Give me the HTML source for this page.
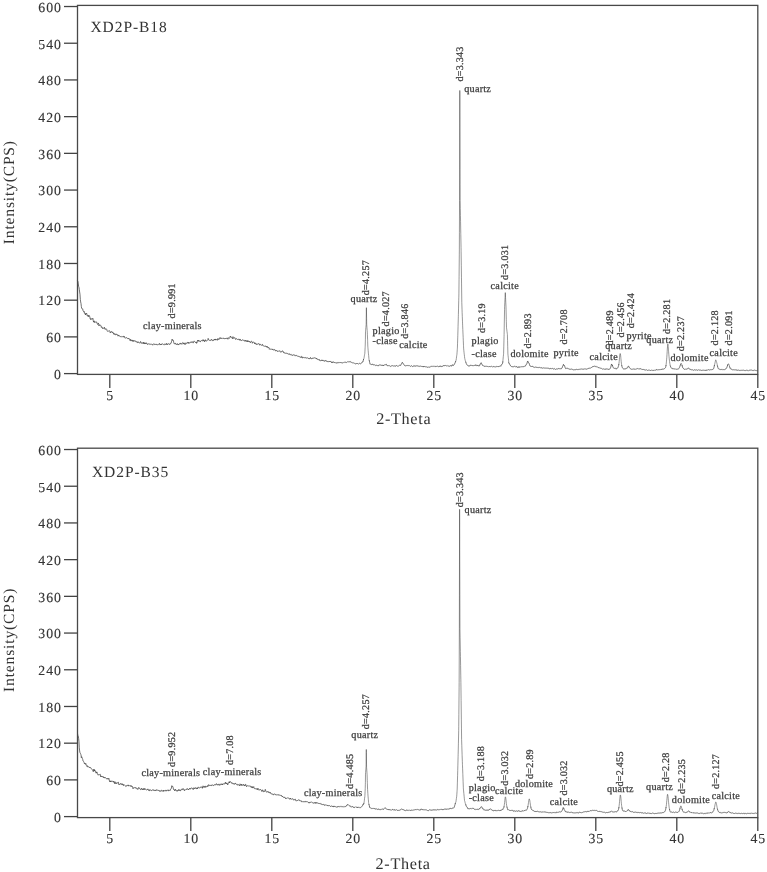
<!DOCTYPE html>
<html><head><meta charset="utf-8"><style>
html,body{margin:0;padding:0;background:#fff;}
svg{display:block;filter:grayscale(1) blur(0.3px);}
text{font-family:"Liberation Serif", serif;fill:#333;text-rendering:geometricPrecision;}
.tk{font-size:13.8px;letter-spacing:1px;stroke:#333;stroke-width:0.12px;}
.ax{font-size:16.2px;letter-spacing:0.68px;}
.ay{font-size:15.5px;letter-spacing:0.85px;}
.an{font-size:10.2px;letter-spacing:0.25px;fill:#3a3a3a;stroke:#3a3a3a;stroke-width:0.25px;}
.av{font-size:10.1px;letter-spacing:0.25px;fill:#3a3a3a;stroke:#3a3a3a;stroke-width:0.25px;}
.ttl{font-size:15.5px;letter-spacing:0.93px;}
</style></head><body>
<svg width="767" height="872" viewBox="0 0 767 872">
<rect width="767" height="872" fill="#fff"/>

<polyline fill="none" stroke="#333" stroke-width="0.7" stroke-linejoin="round" stroke-linecap="round" points="77.60,280.92 77.94,281.55 78.28,283.91 78.62,286.33 78.96,287.16 79.30,289.35 79.64,291.96 79.98,294.21 80.32,299.41 80.66,301.93 81.00,303.53 81.34,306.41 81.68,308.43 82.02,308.52 82.36,308.78 82.70,308.75 83.04,310.63 83.38,311.23 83.72,311.44 84.06,311.00 84.40,313.30 84.74,312.98 85.08,313.12 85.42,314.94 85.76,313.92 86.10,313.08 86.44,313.75 86.78,313.44 87.12,315.73 87.46,315.38 87.80,315.46 88.14,316.60 88.48,315.48 88.82,316.53 89.16,315.44 89.50,316.25 89.84,316.77 90.18,318.96 90.52,319.54 90.86,318.50 91.20,319.14 91.54,318.96 91.88,319.40 92.22,318.67 92.56,318.02 92.90,318.41 93.24,320.52 93.58,322.15 93.92,321.15 94.26,320.91 94.60,322.53 94.94,321.94 95.28,321.87 95.62,322.16 95.96,322.15 96.30,322.10 96.64,321.87 96.98,323.27 97.32,323.63 97.66,324.50 98.00,323.68 98.34,322.96 98.68,324.54 99.02,326.03 99.36,325.09 99.70,324.70 100.04,324.73 100.38,325.09 100.72,325.69 101.06,325.80 101.40,327.42 101.74,326.86 102.08,327.26 102.42,328.42 102.76,328.60 103.10,327.74 103.44,328.12 103.78,328.53 104.12,327.94 104.46,327.31 104.80,328.93 105.14,329.56 105.48,329.29 105.82,328.64 106.16,329.08 106.50,329.14 106.84,329.67 107.18,330.95 107.52,331.38 107.86,331.00 108.20,330.99 108.54,331.13 108.88,330.86 109.22,330.82 109.56,330.68 109.90,331.48 110.24,333.02 110.58,332.46 110.92,331.65 111.26,331.52 111.60,331.59 111.94,332.49 112.28,332.59 112.62,331.87 112.96,332.86 113.30,332.90 113.64,334.01 113.98,333.86 114.32,334.54 114.66,333.58 115.00,333.65 115.34,334.31 115.68,334.96 116.02,334.68 116.36,333.87 116.70,334.65 117.04,334.82 117.38,334.63 117.72,334.89 118.06,336.18 118.40,335.27 118.74,335.04 119.08,335.95 119.42,335.95 119.76,336.01 120.10,336.60 120.44,336.65 120.78,336.75 121.12,337.15 121.46,336.84 121.80,336.38 122.14,336.53 122.48,336.69 122.82,337.07 123.16,336.43 123.50,336.19 123.84,337.18 124.18,336.63 124.52,336.52 124.86,337.80 125.20,337.74 125.54,338.31 125.88,337.91 126.22,337.55 126.56,337.63 126.90,338.20 127.24,338.49 127.58,338.37 127.92,338.56 128.26,338.20 128.60,338.83 128.94,338.28 129.28,339.19 129.62,340.05 129.96,340.57 130.30,340.68 130.64,339.27 130.98,340.35 131.32,340.97 131.66,340.76 132.00,339.92 132.34,340.73 132.68,341.42 133.02,340.05 133.36,340.95 133.70,341.45 134.04,340.78 134.38,341.20 134.72,340.57 135.06,340.64 135.40,340.91 135.74,341.55 136.08,341.76 136.42,342.20 136.76,341.48 137.10,341.95 137.44,342.72 137.78,342.49 138.12,341.69 138.46,342.48 138.80,342.24 139.14,342.63 139.48,342.84 139.82,343.26 140.16,342.58 140.50,341.48 140.84,341.81 141.18,342.96 141.52,342.88 141.86,343.48 142.20,343.10 142.54,342.71 142.88,343.42 143.22,342.53 143.56,342.19 143.90,343.89 144.24,342.58 144.58,343.61 144.92,344.04 145.26,343.51 145.60,342.82 145.94,343.85 146.28,342.92 146.62,342.88 146.96,343.62 147.30,344.36 147.64,344.36 147.98,344.51 148.32,343.95 148.66,343.85 149.00,343.48 149.34,343.93 149.68,344.42 150.02,344.15 150.36,344.36 150.70,343.90 151.04,343.86 151.38,344.19 151.72,344.24 152.06,344.60 152.40,344.65 152.74,345.20 153.08,344.33 153.42,344.00 153.76,343.68 154.10,344.22 154.44,344.52 154.78,343.91 155.12,344.20 155.46,344.58 155.80,344.16 156.14,344.02 156.48,344.66 156.82,344.41 157.16,344.58 157.50,345.04 157.84,344.96 158.18,344.15 158.52,344.00 158.86,344.37 159.20,344.06 159.54,343.45 159.88,344.81 160.22,344.60 160.56,344.63 160.90,343.99 161.24,344.89 161.58,344.24 161.92,344.15 162.26,343.67 162.60,344.19 162.94,344.31 163.28,344.37 163.62,344.63 163.96,344.57 164.30,344.82 164.64,344.06 164.98,343.69 165.32,344.19 165.66,344.68 166.00,345.00 166.34,344.51 166.68,343.29 167.02,344.22 167.36,344.84 167.70,344.11 168.04,343.69 168.38,343.93 168.72,343.71 169.06,344.14 169.40,344.05 169.74,344.58 170.08,344.03 170.42,343.25 170.76,343.56 171.10,343.21 171.44,341.74 171.78,340.55 172.12,339.17 172.46,340.27 172.80,340.15 173.14,340.06 173.48,341.10 173.82,342.75 174.16,343.80 174.50,343.79 174.84,343.96 175.18,343.25 175.52,343.26 175.86,344.41 176.20,344.42 176.54,344.24 176.88,344.61 177.22,343.60 177.56,343.78 177.90,344.68 178.24,345.05 178.58,344.33 178.92,344.73 179.26,343.77 179.60,343.93 179.94,343.57 180.28,342.94 180.62,343.82 180.96,344.24 181.30,343.71 181.64,343.77 181.98,344.23 182.32,342.92 182.66,342.55 183.00,342.87 183.34,342.94 183.68,344.09 184.02,343.66 184.36,342.89 184.70,343.26 185.04,344.73 185.38,343.20 185.72,342.80 186.06,343.37 186.40,343.59 186.74,343.23 187.08,342.50 187.42,342.40 187.76,343.22 188.10,342.85 188.44,342.20 188.78,343.46 189.12,343.42 189.46,342.77 189.80,342.64 190.14,342.75 190.48,342.17 190.82,341.85 191.16,342.43 191.50,341.82 191.84,342.35 192.18,341.66 192.52,342.13 192.86,342.44 193.20,343.10 193.54,341.67 193.88,341.18 194.22,341.45 194.56,341.29 194.90,341.59 195.24,342.21 195.58,342.57 195.92,342.77 196.26,341.90 196.60,343.36 196.94,343.09 197.28,341.49 197.62,340.28 197.96,341.23 198.30,341.24 198.64,340.17 198.98,341.13 199.32,341.14 199.66,340.89 200.00,341.61 200.34,341.76 200.68,341.00 201.02,341.07 201.36,340.59 201.70,340.46 202.04,340.93 202.38,341.12 202.72,340.34 203.06,339.59 203.40,340.68 203.74,339.96 204.08,340.84 204.42,341.74 204.76,340.76 205.10,339.82 205.44,339.82 205.78,341.10 206.12,340.79 206.46,340.99 206.80,341.13 207.14,340.57 207.48,340.20 207.82,339.52 208.16,338.39 208.50,339.17 208.84,340.14 209.18,340.29 209.52,340.50 209.86,340.27 210.20,340.41 210.54,340.56 210.88,339.72 211.22,339.66 211.56,339.26 211.90,340.42 212.24,340.22 212.58,340.45 212.92,341.02 213.26,340.71 213.60,340.07 213.94,340.10 214.28,339.13 214.62,339.85 214.96,339.66 215.30,338.94 215.64,340.13 215.98,339.45 216.32,339.81 216.66,339.48 217.00,340.16 217.34,340.21 217.68,338.89 218.02,338.35 218.36,339.15 218.70,339.70 219.04,339.04 219.38,338.84 219.72,339.01 220.06,337.48 220.40,338.16 220.74,338.17 221.08,338.88 221.42,338.40 221.76,338.11 222.10,338.32 222.44,337.91 222.78,338.48 223.12,338.27 223.46,338.28 223.80,338.28 224.14,339.01 224.48,338.66 224.82,338.85 225.16,338.70 225.50,338.07 225.84,338.63 226.18,338.61 226.52,338.42 226.86,337.93 227.20,337.92 227.54,338.74 227.88,339.28 228.22,337.80 228.56,338.05 228.90,337.78 229.24,338.24 229.58,338.20 229.92,337.98 230.26,336.00 230.60,336.70 230.94,336.86 231.28,337.35 231.62,337.20 231.96,337.43 232.30,338.46 232.64,338.84 232.98,336.63 233.32,337.68 233.66,338.41 234.00,338.36 234.34,338.08 234.68,337.59 235.02,338.01 235.36,339.16 235.70,339.54 236.04,338.99 236.38,338.52 236.72,338.97 237.06,339.06 237.40,339.49 237.74,339.32 238.08,339.01 238.42,339.29 238.76,338.92 239.10,340.01 239.44,340.25 239.78,339.20 240.12,339.73 240.46,339.44 240.80,340.50 241.14,340.58 241.48,340.13 241.82,340.59 242.16,339.96 242.50,339.74 242.84,339.88 243.18,340.17 243.52,340.24 243.86,340.46 244.20,340.32 244.54,341.10 244.88,341.30 245.22,340.42 245.56,340.04 245.90,341.26 246.24,341.66 246.58,340.91 246.92,340.41 247.26,341.39 247.60,341.97 247.94,340.59 248.28,341.50 248.62,341.37 248.96,341.23 249.30,341.80 249.64,341.25 249.98,342.14 250.32,342.85 250.66,342.31 251.00,341.59 251.34,341.12 251.68,341.32 252.02,341.56 252.36,343.25 252.70,342.64 253.04,342.05 253.38,341.94 253.72,342.21 254.06,342.61 254.40,342.62 254.74,343.92 255.08,343.03 255.42,342.95 255.76,343.76 256.10,344.57 256.44,344.51 256.78,343.70 257.12,343.97 257.46,344.13 257.80,344.38 258.14,344.23 258.48,343.63 258.82,343.59 259.16,344.27 259.50,344.10 259.84,345.25 260.18,344.82 260.52,344.29 260.86,344.62 261.20,344.75 261.54,345.15 261.88,345.59 262.22,344.52 262.56,344.38 262.90,345.53 263.24,345.65 263.58,345.90 263.92,346.12 264.26,346.04 264.60,346.39 264.94,345.88 265.28,346.24 265.62,346.00 265.96,346.08 266.30,347.08 266.64,347.12 266.98,346.08 267.32,346.53 267.66,347.56 268.00,348.06 268.34,347.47 268.68,347.54 269.02,347.55 269.36,349.30 269.70,348.89 270.04,349.00 270.38,349.11 270.72,349.33 271.06,349.24 271.40,348.96 271.74,349.40 272.08,349.41 272.42,349.81 272.76,349.05 273.10,349.15 273.44,349.91 273.78,350.30 274.12,349.82 274.46,349.44 274.80,349.69 275.14,349.90 275.48,350.99 275.82,350.89 276.16,350.95 276.50,350.53 276.84,350.29 277.18,351.16 277.52,351.54 277.86,351.11 278.20,350.91 278.54,351.31 278.88,350.95 279.22,351.27 279.56,350.76 279.90,350.73 280.24,351.49 280.58,351.78 280.92,352.35 281.26,351.62 281.60,351.52 281.94,351.03 282.28,350.68 282.62,350.96 282.96,351.92 283.30,351.71 283.64,352.72 283.98,353.00 284.32,352.55 284.66,353.24 285.00,352.99 285.34,353.24 285.68,352.96 286.02,353.30 286.36,352.83 286.70,353.36 287.04,353.18 287.38,353.42 287.72,353.86 288.06,353.83 288.40,353.87 288.74,354.33 289.08,354.35 289.42,353.71 289.76,354.48 290.10,354.69 290.44,354.32 290.78,354.61 291.12,354.30 291.46,355.24 291.80,354.86 292.14,354.96 292.48,355.46 292.82,355.14 293.16,355.25 293.50,354.73 293.84,354.78 294.18,354.65 294.52,355.25 294.86,355.87 295.20,355.77 295.54,355.87 295.88,355.21 296.22,355.20 296.56,355.55 296.90,356.07 297.24,356.11 297.58,356.09 297.92,356.35 298.26,356.20 298.60,356.40 298.94,356.89 299.28,356.40 299.62,356.77 299.96,357.38 300.30,357.05 300.64,357.15 300.98,356.99 301.32,357.64 301.66,356.38 302.00,356.57 302.34,357.03 302.68,358.08 303.02,357.85 303.36,357.52 303.70,357.31 304.04,357.89 304.38,357.91 304.72,357.56 305.06,357.26 305.40,357.50 305.74,358.10 306.08,358.27 306.42,358.22 306.76,358.02 307.10,357.58 307.44,358.10 307.78,357.97 308.12,358.38 308.46,358.58 308.80,358.20 309.14,358.19 309.48,358.92 309.82,358.81 310.16,358.24 310.50,357.47 310.84,358.41 311.18,358.91 311.52,358.97 311.86,358.29 312.20,358.13 312.54,358.27 312.88,358.58 313.22,357.96 313.56,358.09 313.90,357.93 314.24,358.13 314.58,357.65 314.92,358.13 315.26,357.94 315.60,358.10 315.94,358.62 316.28,358.83 316.62,358.17 316.96,359.08 317.30,359.21 317.64,359.14 317.98,359.76 318.32,359.67 318.66,359.99 319.00,359.51 319.34,359.57 319.68,360.54 320.02,361.07 320.36,360.76 320.70,360.74 321.04,360.26 321.38,359.98 321.72,360.49 322.06,360.98 322.40,360.07 322.74,360.24 323.08,360.05 323.42,360.76 323.76,361.07 324.10,360.50 324.44,360.81 324.78,361.42 325.12,361.02 325.46,360.56 325.80,360.44 326.14,360.45 326.48,361.30 326.82,361.16 327.16,361.71 327.50,361.71 327.84,361.23 328.18,361.31 328.52,361.77 328.86,361.71 329.20,361.61 329.54,361.20 329.88,361.85 330.22,361.39 330.56,360.97 330.90,361.56 331.24,362.20 331.58,362.72 331.92,362.00 332.26,361.81 332.60,362.80 332.94,362.42 333.28,362.14 333.62,361.91 333.96,362.11 334.30,362.86 334.64,362.50 334.98,362.35 335.32,362.54 335.66,363.12 336.00,362.71 336.34,362.98 336.68,362.94 337.02,362.82 337.36,362.55 337.70,363.03 338.04,363.32 338.38,362.78 338.72,362.35 339.06,362.27 339.40,362.68 339.74,362.64 340.08,362.66 340.42,362.60 340.76,362.27 341.10,362.86 341.44,362.81 341.78,362.68 342.12,362.80 342.46,362.98 342.80,362.67 343.14,362.45 343.48,362.92 343.82,362.51 344.16,362.24 344.50,362.05 344.84,362.42 345.18,362.17 345.52,362.25 345.86,362.49 346.20,362.41 346.54,362.57 346.88,362.26 347.22,361.89 347.56,361.77 347.90,361.71 348.24,361.95 348.58,361.71 348.92,361.52 349.26,361.77 349.60,361.70 349.94,361.53 350.28,361.44 350.62,362.16 350.96,362.37 351.30,362.42 351.64,362.37 351.98,362.35 352.32,362.63 352.66,362.88 353.00,362.88 353.34,362.91 353.68,362.94 354.02,363.25 354.36,363.29 354.70,363.15 355.04,363.65 355.38,363.84 355.72,363.87 356.06,363.65 356.40,363.59 356.74,363.49 357.08,363.91 357.42,363.35 357.76,363.69 358.10,363.87 358.40,364.13 358.44,364.16 358.65,363.99 358.78,363.89 358.90,363.74 359.12,363.47 359.15,363.46 359.40,363.32 359.46,363.29 359.65,363.40 359.80,363.50 359.90,363.58 360.14,363.77 360.15,363.77 360.40,363.77 360.48,363.76 360.65,363.69 360.82,363.62 360.90,363.58 361.00,363.54 361.15,363.29 361.16,363.27 361.40,363.11 361.50,363.04 361.65,362.97 361.84,362.89 361.90,362.73 362.15,362.05 362.18,361.97 362.40,361.90 362.52,361.89 362.65,361.94 362.86,362.02 362.90,361.95 363.15,360.97 363.20,360.77 363.40,359.98 363.54,359.42"/>
<polyline fill="none" stroke="#333" stroke-width="0.5" stroke-linejoin="round" stroke-linecap="round" points="363.54,359.42 363.65,359.15 363.88,358.57 363.90,358.49 364.10,357.69 364.15,357.31 364.22,356.78 364.40,355.70 364.56,354.75 364.65,354.29 364.80,353.52 364.90,351.85 365.15,347.25 365.20,346.33 365.24,345.08 365.40,339.68 365.50,331.48 365.58,330.36 365.65,329.70 365.90,327.32 365.92,327.13 366.15,324.80 366.26,317.44 366.40,307.68 366.60,318.67 366.65,321.53 366.70,324.40 366.90,326.97 366.94,327.49 367.15,330.28 367.28,332.00 367.30,332.22 367.40,334.74 367.60,339.78 367.62,340.38 367.65,341.33 367.80,346.08 367.90,347.36 367.96,348.12 368.15,350.36 368.30,352.12 368.40,353.23 368.64,355.30 368.65,355.41 368.90,358.28 368.98,359.20 369.00,359.41 369.15,360.02 369.32,360.72"/>
<polyline fill="none" stroke="#333" stroke-width="0.7" stroke-linejoin="round" stroke-linecap="round" points="369.32,360.72 369.40,361.12 369.65,362.37 369.66,362.42 369.90,363.60 370.00,364.08 370.10,364.35 370.15,364.32 370.34,364.17 370.40,364.14 370.65,364.00 370.68,363.98 370.90,364.20 371.02,364.32 371.15,364.40 371.36,364.52 371.40,364.55 371.65,364.73 371.70,364.77 371.90,364.49 372.00,364.35 372.04,364.28 372.15,364.25 372.38,364.20 372.40,364.20 372.65,364.19 372.72,364.18 372.90,364.57 373.06,364.92 373.15,364.91 373.40,364.91 373.65,364.79 373.74,364.74 373.90,364.74 374.08,364.74 374.15,364.76 374.40,364.81 374.42,364.82 374.65,364.82 374.76,364.82 374.90,364.90 375.10,365.01 375.15,365.03 375.44,365.17 375.78,365.68 376.12,365.48 376.46,365.16 376.80,365.32 377.14,365.81 377.48,365.67 377.82,365.58 378.16,365.71 378.50,365.79 378.84,365.05 379.18,364.92 379.52,364.78 379.86,365.27 380.20,365.11 380.54,364.94 380.88,364.96 381.22,365.33 381.56,365.18 381.90,365.15 382.24,365.51 382.58,364.97 382.92,365.02 383.26,365.92 383.60,365.30 383.94,365.02 384.28,364.91 384.62,364.96 384.96,365.04 385.30,364.84 385.64,364.56 385.98,364.28 386.32,364.22 386.66,365.01 387.00,365.69 387.34,365.77 387.68,365.59 388.02,365.81 388.36,365.62 388.70,365.61 389.04,365.39 389.38,365.62 389.72,365.80 390.06,365.81 390.40,366.13 390.74,366.47 391.08,366.30 391.42,365.81 391.76,365.62 392.10,365.61 392.44,365.59 392.78,365.89 393.12,366.05 393.46,366.02 393.80,366.01 394.14,366.00 394.48,365.89 394.82,365.83 395.16,366.40 395.50,366.22 395.84,365.62 396.18,365.50 396.52,365.59 396.86,365.82 397.20,366.15 397.54,366.13 397.88,366.10 398.22,366.07 398.56,366.02 398.90,365.86 399.24,365.67 399.58,365.34 399.92,364.87 400.26,365.22 400.60,365.55 400.94,364.70 401.28,364.15 401.62,363.88 401.96,362.92 402.30,362.24 402.64,362.66 402.98,363.07 403.32,363.75 403.66,364.18 404.00,364.93 404.34,365.33 404.68,365.66 405.02,365.91 405.36,365.94 405.70,365.75 406.04,365.77 406.38,365.43 406.72,365.84 407.06,365.92 407.40,365.62 407.74,365.51 408.08,365.64 408.42,365.47 408.76,365.84 409.10,365.86 409.44,365.59 409.78,365.86 410.12,366.21 410.46,366.28 410.80,366.20 411.14,365.87 411.48,365.75 411.82,365.79 412.16,366.16 412.50,366.64 412.84,366.50 413.18,366.48 413.52,366.25 413.86,365.51 414.20,365.71 414.54,365.83 414.88,366.30 415.22,366.38 415.56,365.81 415.90,365.89 416.24,366.01 416.58,365.75 416.92,365.65 417.26,365.72 417.60,366.04 417.94,365.77 418.28,366.20 418.62,366.12 418.96,366.33 419.30,366.50 419.64,365.99 419.98,365.94 420.32,366.23 420.66,365.98 421.00,366.06 421.34,366.30 421.68,366.37 422.02,366.12 422.36,366.37 422.70,366.76 423.04,366.87 423.38,366.28 423.72,366.97 424.06,366.98 424.40,366.47 424.74,366.42 425.08,366.88 425.42,366.81 425.76,366.93 426.10,367.07 426.44,366.82 426.78,366.89 427.12,367.01 427.46,367.17 427.80,367.40 428.14,367.35 428.48,366.93 428.82,366.86 429.16,367.40 429.50,367.08 429.84,366.83 430.18,366.52 430.52,366.82 430.86,366.53 431.20,366.47 431.54,366.30 431.88,366.48 432.22,366.57 432.56,366.22 432.90,366.32 433.24,366.48 433.58,366.21 433.92,366.15 434.26,366.22 434.60,366.19 434.94,366.58 435.28,366.36 435.62,366.72 435.96,366.73 436.30,366.24 436.64,366.40 436.98,366.28 437.32,366.11 437.66,366.28 438.00,366.39 438.34,366.65 438.68,366.65 439.02,366.13 439.36,366.22 439.70,366.53 440.04,366.52 440.38,365.79 440.72,366.47 441.06,366.38 441.40,366.61 441.74,366.15 442.08,365.96 442.42,366.21 442.76,366.48 443.10,366.08 443.44,365.53 443.78,366.05 444.12,365.63 444.46,365.63 444.80,365.56 445.14,365.38 445.48,365.49 445.82,365.60 446.16,365.73 446.50,365.87 446.84,365.74 447.18,365.46 447.52,365.79 447.86,366.16 448.20,366.16 448.54,365.94 448.88,366.02 449.22,366.13 449.56,366.27 449.90,366.25 450.24,365.69 450.58,365.67 450.92,366.14 451.26,366.25 451.60,365.99 451.80,365.42 451.94,365.01 452.05,365.07 452.28,365.17 452.30,365.14 452.55,364.77 452.62,364.67 452.80,365.13 452.96,365.54 453.05,365.54 453.30,365.56 453.55,365.16 453.64,365.01 453.80,364.80 453.98,364.55 454.05,364.51 454.30,364.37 454.32,364.36 454.55,363.84 454.66,363.59 454.80,363.49 455.00,363.13 455.05,363.00 455.30,362.32 455.34,362.21 455.55,361.63"/>
<polyline fill="none" stroke="#333" stroke-width="0.5" stroke-linejoin="round" stroke-linecap="round" points="455.55,361.63 455.68,361.28 455.80,360.98 456.02,360.42 456.05,360.33 456.10,360.18 456.30,358.71 456.36,358.27 456.55,356.83 456.70,355.70 456.80,355.14 456.90,354.58 457.04,352.84 457.05,352.70 457.30,349.31 457.38,348.23 457.40,347.94 457.55,343.22 457.72,337.87 457.80,335.45 458.05,326.85 458.06,326.51 458.30,318.09 458.35,316.34 458.40,314.34 458.55,308.11 458.74,300.22 458.80,297.85 458.90,293.90 459.05,279.31 459.08,276.40 459.30,254.86 459.35,249.97 459.42,232.64 459.55,200.44 459.76,108.00 459.80,90.43 460.05,169.18 460.10,184.93 460.15,200.62 460.30,208.34 460.44,215.54 460.55,221.30 460.78,233.35 460.80,234.41 461.05,247.60 461.10,250.24 461.12,251.74 461.30,265.22 461.46,277.20 461.55,283.95 461.80,302.70 462.05,309.85 462.14,312.42 462.30,316.54 462.48,321.18 462.55,323.10 462.65,325.84 462.80,329.30 462.82,329.76 463.05,334.92 463.16,337.39 463.30,340.80 463.50,345.69 463.55,346.89 463.60,348.09 463.80,350.16 463.84,350.58 464.05,352.55 464.18,353.77 464.30,354.74 464.52,356.52 464.55,356.81 464.70,358.28 464.80,358.63 464.86,358.84 465.05,359.67 465.20,360.32 465.30,360.59 465.54,361.22 465.55,361.26 465.80,362.15"/>
<polyline fill="none" stroke="#333" stroke-width="0.7" stroke-linejoin="round" stroke-linecap="round" points="465.80,362.15 465.88,362.44 466.05,362.83 466.22,363.23 466.30,363.61 466.55,364.31 466.56,364.34 466.80,364.66 466.90,364.80 467.05,364.89 467.24,365.00 467.30,365.02 467.55,365.09 467.58,365.10 467.80,365.47 467.92,365.67 468.00,365.81 468.05,365.83 468.26,365.91 468.30,365.92 468.55,365.94 468.60,365.95 468.94,365.86 469.28,365.82 469.62,365.97 469.96,366.10 470.30,365.25 470.64,365.19 470.98,365.21 471.32,365.35 471.66,365.22 472.00,365.74 472.34,365.70 472.68,365.53 473.02,365.41 473.36,365.60 473.70,365.64 474.04,365.59 474.38,365.36 474.72,365.53 475.06,365.16 475.40,365.56 475.74,364.69 476.08,365.11 476.42,365.23 476.76,365.64 477.10,365.34 477.44,365.93 477.78,365.42 478.12,366.11 478.46,365.85 478.80,365.62 479.14,365.70 479.48,365.92 479.82,365.12 480.16,363.86 480.50,363.92 480.84,363.22 481.18,362.69 481.52,363.52 481.86,363.88 482.20,364.81 482.54,365.36 482.88,365.55 483.22,365.97 483.56,365.80 483.90,366.08 484.24,366.03 484.58,366.24 484.92,366.76 485.26,366.36 485.60,366.02 485.94,366.20 486.28,366.16 486.62,366.36 486.96,366.46 487.30,366.47 487.64,366.45 487.98,366.36 488.32,366.64 488.66,366.78 489.00,366.43 489.34,366.51 489.68,366.66 490.02,366.99 490.36,366.93 490.70,366.51 491.04,366.55 491.38,366.24 491.72,366.36 492.06,366.69 492.40,366.94 492.74,367.01 493.08,366.66 493.42,366.44 493.76,366.76 494.10,366.71 494.44,366.78 494.78,366.74 495.12,366.83 495.46,366.83 495.80,366.76 496.14,366.48 496.48,366.67 496.82,366.35 497.16,366.49 497.30,366.65 497.50,366.87 497.55,366.81 497.80,366.50 497.84,366.45 498.05,366.22 498.18,366.08 498.30,366.27 498.52,366.63 498.55,366.63 498.80,366.63 498.86,366.63 499.05,366.58 499.20,366.55 499.30,366.47 499.54,366.28 499.55,366.28 499.80,366.21 499.88,366.19 500.05,366.09 500.22,365.98 500.30,365.97 500.55,365.92 500.56,365.92 500.80,366.22 500.90,366.18 501.05,365.74 501.24,365.21 501.30,365.08 501.55,364.56 501.58,364.50 501.80,364.22 501.92,364.07 502.05,364.07 502.26,364.08 502.30,363.99 502.55,363.42 502.60,363.30 502.70,363.03 502.80,361.89"/>
<polyline fill="none" stroke="#333" stroke-width="0.5" stroke-linejoin="round" stroke-linecap="round" points="502.80,361.89 502.94,360.31 503.05,359.20 503.28,356.88 503.30,356.68 503.55,354.26 503.60,353.78 503.62,353.03 503.80,346.17 503.96,340.07 504.05,336.51 504.10,334.53 504.30,323.10 504.55,309.52 504.60,306.81 504.64,306.07 504.80,302.80 504.98,299.13 505.05,297.70 505.30,292.61 505.32,293.00 505.55,297.66 505.66,299.89 505.80,302.85 506.00,307.06 506.05,309.15 506.30,319.59 506.34,321.26 506.50,327.67 506.55,328.02 506.68,328.95 506.80,329.91 507.02,331.67 507.05,331.89 507.30,333.74 507.36,334.18 507.40,334.54 507.55,340.39 507.70,346.24 507.80,350.07 507.90,353.89 508.04,355.34 508.05,355.43 508.30,357.60 508.38,358.30 508.55,360.15 508.72,362.00 508.80,362.89"/>
<polyline fill="none" stroke="#333" stroke-width="0.7" stroke-linejoin="round" stroke-linecap="round" points="508.80,362.89 509.05,363.51 509.06,363.53 509.30,363.58 509.40,363.59 509.55,363.98 509.74,364.46 509.80,364.60 510.05,365.19 510.08,365.26 510.30,365.33 510.42,365.36 510.55,365.68 510.70,366.06 510.76,366.11 510.80,366.14 511.05,366.35 511.10,366.39 511.30,366.49 511.44,366.56 511.55,366.44 511.78,366.21 511.80,366.24 512.05,366.60 512.12,366.71 512.30,366.71 512.46,366.72 512.55,366.78 512.80,366.95 513.05,366.97 513.14,366.98 513.30,366.90 513.48,366.81 513.55,366.79 513.80,366.72 513.82,366.72 514.05,366.38 514.16,366.21 514.50,366.25 514.84,366.44 515.18,366.74 515.52,366.99 515.86,366.49 516.20,366.70 516.54,366.55 516.88,366.64 517.22,367.36 517.56,367.29 517.90,367.62 518.24,367.46 518.58,366.83 518.92,366.66 519.26,367.42 519.60,366.94 519.94,366.68 520.28,367.04 520.62,366.91 520.96,366.66 521.30,366.68 521.64,366.79 521.98,366.79 522.32,366.85 522.66,366.56 523.00,366.50 523.34,366.68 523.68,366.64 524.02,366.69 524.36,366.31 524.70,366.11 525.04,365.85 525.38,366.12 525.72,365.30 526.06,365.07 526.40,364.34 526.74,363.85 527.08,363.01 527.42,361.65"/>
<polyline fill="none" stroke="#333" stroke-width="0.5" stroke-linejoin="round" stroke-linecap="round" points="527.42,361.65 527.76,361.30 528.10,361.20 528.44,362.43 528.78,362.92"/>
<polyline fill="none" stroke="#333" stroke-width="0.7" stroke-linejoin="round" stroke-linecap="round" points="528.78,362.92 529.12,363.44 529.46,364.46 529.80,365.62 530.14,366.16 530.48,366.28 530.82,365.98 531.16,366.28 531.50,366.77 531.84,366.37 532.18,366.39 532.52,366.32 532.86,366.44 533.20,367.07 533.54,367.10 533.88,367.10 534.22,367.20 534.56,367.41 534.90,367.53 535.24,367.21 535.58,367.07 535.92,367.05 536.26,367.51 536.60,367.23 536.94,367.03 537.28,367.33 537.62,367.53 537.96,367.79 538.30,367.81 538.64,367.43 538.98,367.38 539.32,367.48 539.66,367.38 540.00,367.66 540.34,367.86 540.68,367.73 541.02,367.37 541.36,367.55 541.70,368.07 542.04,367.77 542.38,368.09 542.72,368.13 543.06,367.90 543.40,367.79 543.74,368.01 544.08,367.88 544.42,368.04 544.76,368.13 545.10,368.01 545.44,368.10 545.78,368.09 546.12,367.95 546.46,368.15 546.80,368.07 547.14,367.88 547.48,368.19 547.82,368.28 548.16,368.17 548.50,368.00 548.84,368.58 549.18,368.72 549.52,368.72 549.86,368.60 550.20,368.33 550.54,368.53 550.88,368.54 551.22,369.07 551.56,368.71 551.90,368.76 552.24,368.38 552.58,368.41 552.92,368.65 553.26,368.97 553.60,369.00 553.94,368.87 554.28,368.56 554.62,369.03 554.96,368.87 555.30,369.32 555.64,369.42 555.98,369.20 556.32,369.07 556.66,368.76 557.00,369.35 557.34,369.04 557.68,368.99 558.02,368.64 558.36,368.66 558.70,368.47 559.04,368.61 559.38,368.69 559.72,368.77 560.06,368.95 560.40,368.77 560.74,368.62 561.08,368.59 561.42,368.77 561.76,368.18 562.10,367.93 562.44,366.78 562.78,366.08 563.12,365.39 563.46,364.65"/>
<polyline fill="none" stroke="#333" stroke-width="0.5" stroke-linejoin="round" stroke-linecap="round" points="563.46,364.65 563.80,365.12 564.14,365.60"/>
<polyline fill="none" stroke="#333" stroke-width="0.7" stroke-linejoin="round" stroke-linecap="round" points="564.14,365.60 564.48,365.70 564.82,366.59 565.16,367.61 565.50,368.49 565.84,368.69 566.18,368.56 566.52,368.27 566.86,368.29 567.20,368.03 567.54,368.34 567.88,368.87 568.22,368.99 568.56,368.67 568.90,368.98 569.24,369.34 569.58,369.11 569.92,369.03 570.26,369.23 570.60,369.26 570.94,369.17 571.28,369.06 571.62,369.11 571.96,369.23 572.30,369.23 572.64,369.60 572.98,369.63 573.32,369.72 573.66,369.92 574.00,369.89 574.34,369.83 574.68,369.62 575.02,369.59 575.36,369.92 575.70,369.43 576.04,369.29 576.38,369.27 576.72,369.47 577.06,369.56 577.40,369.63 577.74,369.32 578.08,369.04 578.42,369.40 578.76,369.56 579.10,369.37 579.44,369.31 579.78,369.47 580.12,369.59 580.46,369.25 580.80,368.93 581.14,369.04 581.48,369.07 581.82,368.85 582.16,369.21 582.50,369.05 582.84,369.21 583.18,369.15 583.52,369.10 583.86,369.36 584.20,368.96 584.54,368.86 584.88,369.05 585.22,369.14 585.56,368.93 585.90,368.74 586.24,369.01 586.58,369.10 586.92,369.27 587.26,368.84 587.60,368.74 587.94,368.50 588.28,368.29 588.62,368.53 588.96,368.60 589.30,368.17 589.64,368.04 589.98,367.95 590.32,368.24 590.66,367.87 591.00,367.83 591.34,367.48 591.68,367.43 592.02,367.09 592.36,366.66 592.70,366.94 593.04,366.88 593.38,366.31 593.72,366.45 594.06,366.35 594.40,366.17 594.74,366.20 595.08,365.97 595.42,366.41 595.76,366.65 596.10,366.33 596.44,366.64 596.78,367.07 597.12,366.99 597.46,366.93 597.80,367.02 598.14,367.37 598.48,367.54 598.82,367.74 599.16,367.59 599.50,368.09 599.84,368.07 600.18,368.30 600.52,368.16 600.86,368.12 601.20,368.33 601.54,368.40 601.88,368.63 602.22,368.96 602.56,369.12 602.90,368.99 603.24,368.86 603.58,368.94 603.92,369.22 604.26,369.35 604.60,369.12 604.94,369.10 605.28,369.05 605.62,369.27 605.96,369.32 606.30,368.74 606.64,369.18 606.98,369.10 607.32,368.83 607.66,369.27 608.00,369.31 608.34,369.30 608.68,369.11 609.02,369.57 609.36,369.16 609.70,368.84 610.04,368.78 610.38,368.10 610.72,367.25 611.06,366.08 611.40,364.48"/>
<polyline fill="none" stroke="#333" stroke-width="0.5" stroke-linejoin="round" stroke-linecap="round" points="611.40,364.48 611.74,364.37 612.08,364.40 612.42,365.38"/>
<polyline fill="none" stroke="#333" stroke-width="0.7" stroke-linejoin="round" stroke-linecap="round" points="612.42,365.38 612.76,366.51 613.10,367.11 613.44,367.85 613.78,368.28 614.12,368.32 614.46,368.41 614.80,368.07 615.14,368.09 615.48,368.19 615.82,368.65 616.16,369.23 616.20,369.16 616.40,368.78 616.50,368.58 616.60,368.49 616.80,368.30 616.84,368.26 617.00,368.23 617.18,368.18 617.20,368.19 617.40,368.20 617.52,368.19 617.60,368.11 617.80,367.84 617.86,367.75 618.00,367.40 618.20,366.80 618.40,366.38 618.54,365.96 618.60,365.67 618.80,364.51"/>
<polyline fill="none" stroke="#333" stroke-width="0.5" stroke-linejoin="round" stroke-linecap="round" points="618.80,364.51 618.88,363.96 619.00,363.08 619.20,361.37 619.22,361.18 619.40,359.15 619.56,357.27 619.60,356.88 619.80,355.04 619.90,354.29 620.00,353.80 620.20,353.51 620.24,353.57 620.40,353.92 620.58,354.97 620.60,355.16 620.80,357.25 620.92,358.60 621.00,359.44 621.20,361.44 621.26,362.00 621.40,363.16 621.60,364.57 621.80,365.71"/>
<polyline fill="none" stroke="#333" stroke-width="0.7" stroke-linejoin="round" stroke-linecap="round" points="621.80,365.71 621.94,366.34 622.00,366.57 622.20,367.19 622.28,367.38 622.40,367.63 622.60,367.94 622.62,367.96 622.80,368.08 622.96,368.14 623.00,368.19 623.20,368.42 623.30,368.52 623.40,368.72 623.60,369.12 623.64,369.20 623.80,369.13 623.98,369.04 624.00,369.03 624.32,368.92 624.66,368.85 625.00,368.69 625.34,368.82 625.68,368.82 626.02,368.92 626.36,368.43 626.70,367.94 627.04,367.96 627.38,367.87 627.72,367.58 628.06,366.68 628.40,365.98 628.74,366.30 629.08,366.84 629.42,367.59 629.76,367.97 630.10,368.24 630.44,368.84 630.78,368.99 631.12,369.00 631.46,369.21 631.80,369.52 632.14,369.20 632.48,369.09 632.82,369.20 633.16,368.84 633.50,369.14 633.84,368.92 634.18,368.87 634.52,369.12 634.86,369.36 635.20,368.99 635.54,369.19 635.88,369.05 636.22,368.74 636.56,369.05 636.90,368.74 637.24,368.54 637.58,368.63 637.92,368.72 638.26,368.92 638.60,368.78 638.94,369.13 639.28,368.98 639.62,368.78 639.96,368.83 640.30,369.00 640.64,368.64 640.98,368.64 641.32,369.02 641.66,369.43 642.00,369.46 642.34,369.46 642.68,369.39 643.02,369.13 643.36,369.41 643.70,369.38 644.04,369.85 644.38,369.85 644.72,369.89 645.06,370.02 645.40,370.04 645.74,370.05 646.08,370.04 646.42,369.86 646.76,369.77 647.10,370.11 647.44,370.38 647.78,370.32 648.12,370.12 648.46,370.20 648.80,370.09 649.14,370.18 649.48,370.08 649.82,370.26 650.16,370.60 650.50,370.49 650.84,370.50 651.18,370.15 651.52,370.12 651.86,370.27 652.20,370.39 652.54,370.33 652.88,370.44 653.22,370.26 653.56,370.51 653.90,370.41 654.24,370.06 654.58,370.24 654.92,370.18 655.26,370.29 655.60,370.07 655.94,370.15 656.28,370.07 656.62,369.49 656.96,369.57 657.30,369.93 657.64,369.98 657.98,370.13 658.32,369.94 658.66,369.66 659.00,369.83 659.34,369.68 659.68,369.69 660.02,369.65 660.36,369.69 660.70,369.37 661.04,369.26 661.38,369.19 661.72,369.79 662.06,369.32 662.40,369.14 662.74,369.03 663.08,369.04 663.42,369.04 663.76,369.11 663.80,369.09 664.00,368.99 664.10,368.93 664.20,368.87 664.40,368.75 664.44,368.72 664.60,368.54 664.78,368.32 664.80,368.31 665.00,368.17 665.12,368.06 665.20,368.00 665.40,367.77 665.46,367.68 665.60,367.24 665.80,366.44 666.00,365.42"/>
<polyline fill="none" stroke="#333" stroke-width="0.5" stroke-linejoin="round" stroke-linecap="round" points="666.00,365.42 666.14,364.49 666.20,363.99 666.40,362.02 666.48,361.11 666.60,359.84 666.80,357.35 666.82,357.08 667.00,354.33 667.16,351.77 667.20,351.12 667.40,348.08 667.50,346.80 667.60,345.58 667.80,344.16 667.84,344.06 668.00,344.72 668.18,346.41 668.20,346.63 668.40,349.11 668.52,350.72 668.60,351.77 668.80,354.27 668.86,354.97 669.00,356.45 669.20,358.34 669.40,360.15 669.54,361.32 669.60,361.78 669.80,363.22 669.88,363.74 670.00,364.38 670.20,365.30 670.22,365.38 670.40,366.05"/>
<polyline fill="none" stroke="#333" stroke-width="0.7" stroke-linejoin="round" stroke-linecap="round" points="670.40,366.05 670.56,366.54 670.60,366.65 670.80,367.16 670.90,367.36 671.00,367.54 671.20,367.83 671.24,367.87 671.40,368.07 671.58,368.25 671.60,368.25 671.92,368.27 672.26,368.27 672.60,368.87 672.94,368.56 673.28,368.77 673.62,368.71 673.96,368.88 674.30,368.87 674.64,369.02 674.98,368.91 675.32,368.88 675.66,369.23 676.00,369.47 676.34,369.31 676.68,369.17 677.02,368.95 677.36,369.08 677.70,369.12 678.04,368.91 678.38,368.99 678.72,368.66 679.06,368.29 679.40,367.58 679.74,366.77 680.08,365.90 680.42,364.85"/>
<polyline fill="none" stroke="#333" stroke-width="0.5" stroke-linejoin="round" stroke-linecap="round" points="680.42,364.85 680.76,363.85 681.10,363.20 681.44,363.62 681.78,364.63 682.12,365.53"/>
<polyline fill="none" stroke="#333" stroke-width="0.7" stroke-linejoin="round" stroke-linecap="round" points="682.12,365.53 682.46,367.01 682.80,367.77 683.14,368.22 683.48,368.49 683.82,368.94 684.16,369.01 684.50,369.41 684.84,369.20 685.18,368.91 685.52,369.26 685.86,369.14 686.20,369.11 686.54,369.14 686.88,369.11 687.22,369.06 687.56,368.91 687.90,368.53 688.24,368.01 688.58,367.83 688.92,368.18 689.26,368.80 689.60,369.32 689.94,369.66 690.28,369.35 690.62,369.60 690.96,369.67 691.30,369.71 691.64,369.83 691.98,369.81 692.32,369.80 692.66,369.79 693.00,370.01 693.34,370.22 693.68,370.28 694.02,369.90 694.36,369.77 694.70,369.89 695.04,369.90 695.38,370.16 695.72,369.95 696.06,370.00 696.40,369.82 696.74,369.99 697.08,370.19 697.42,370.38 697.76,370.08 698.10,370.11 698.44,369.75 698.78,369.84 699.12,369.97 699.46,370.09 699.80,370.29 700.14,370.29 700.48,369.99 700.82,370.23 701.16,370.15 701.50,370.56 701.84,370.41 702.18,370.32 702.52,370.27 702.86,370.28 703.20,370.24 703.54,370.16 703.88,370.35 704.22,370.33 704.56,370.34 704.90,370.23 705.24,370.26 705.58,370.17 705.92,370.71 706.26,370.10 706.60,370.01 706.94,370.27 707.28,370.27 707.62,369.86 707.96,369.60 708.30,369.61 708.64,369.67 708.98,369.72 709.32,369.86 709.66,370.07 710.00,370.02 710.34,369.71 710.68,369.83 711.02,369.90 711.36,369.89 711.70,369.52 711.90,369.40 712.04,369.31 712.10,369.35 712.30,369.45 712.38,369.49 712.50,369.48 712.70,369.45 712.72,369.44 712.90,369.19 713.06,368.94 713.10,368.94 713.30,368.94 713.40,368.91 713.50,368.75 713.70,368.36 713.74,368.27 713.90,367.68 714.08,366.93 714.10,366.85 714.30,365.98 714.42,365.40"/>
<polyline fill="none" stroke="#333" stroke-width="0.5" stroke-linejoin="round" stroke-linecap="round" points="714.42,365.40 714.50,365.10 714.70,364.26 714.76,363.99 714.90,363.34 715.10,362.40 715.30,361.49 715.44,360.93 715.50,360.67 715.70,359.99 715.78,359.82 715.90,359.98 716.10,360.58 716.12,360.66 716.30,361.18 716.46,361.83 716.50,361.93 716.70,362.53 716.80,362.85 716.90,363.28 717.10,364.11 717.14,364.27 717.30,365.13 717.48,366.03"/>
<polyline fill="none" stroke="#333" stroke-width="0.7" stroke-linejoin="round" stroke-linecap="round" points="717.48,366.03 717.50,366.12 717.70,366.94 717.82,367.38 717.90,367.64 718.10,368.21 718.16,368.36 718.30,368.57 718.50,368.79 718.70,368.85 718.84,368.87 718.90,368.87 719.10,368.84 719.18,368.82 719.30,369.02 719.50,369.34 719.52,369.37 719.70,369.48 719.86,369.58 720.20,369.47 720.54,369.58 720.88,369.61 721.22,369.52 721.56,369.41 721.90,369.60 722.24,369.45 722.58,369.82 722.92,369.56 723.26,369.68 723.60,369.54 723.94,369.66 724.28,369.60 724.62,369.62 724.96,369.31 725.30,369.07 725.64,369.15 725.98,368.92 726.32,368.36 726.66,367.84 727.00,366.93 727.34,366.13 727.68,364.92"/>
<polyline fill="none" stroke="#333" stroke-width="0.5" stroke-linejoin="round" stroke-linecap="round" points="727.68,364.92 728.02,364.02 728.36,363.92 728.70,363.90 729.04,364.83 729.38,366.06 729.72,367.03"/>
<polyline fill="none" stroke="#333" stroke-width="0.7" stroke-linejoin="round" stroke-linecap="round" points="729.72,367.03 730.06,367.87 730.40,368.78 730.74,369.13 731.08,368.78 731.42,369.29 731.76,369.46 732.10,369.56 732.44,369.87 732.78,369.72 733.12,369.90 733.46,369.74 733.80,369.79 734.14,369.98 734.48,369.81 734.82,369.84 735.16,369.73 735.50,369.82 735.84,370.14 736.18,370.13 736.52,369.83 736.86,369.92 737.20,370.49 737.54,370.07 737.88,369.98 738.22,370.19 738.56,370.04 738.90,370.14 739.24,370.40 739.58,370.44 739.92,370.30 740.26,370.49 740.60,370.30 740.94,370.25 741.28,370.29 741.62,370.30 741.96,370.43 742.30,370.38 742.64,370.22 742.98,370.32 743.32,370.23 743.66,370.22 744.00,370.34 744.34,370.53 744.68,370.48 745.02,370.64 745.36,370.67 745.70,370.38 746.04,370.21 746.38,370.20 746.72,370.40 747.06,370.58 747.40,370.62 747.74,370.22 748.08,370.51 748.42,370.67 748.76,370.83 749.10,370.48 749.44,370.30 749.78,370.06 750.12,370.12 750.46,370.10 750.80,370.11 751.14,370.11 751.48,370.05 751.82,370.30 752.16,370.46 752.50,370.51 752.84,370.42 753.18,370.59 753.52,370.53 753.86,370.13 754.20,370.21 754.54,370.10 754.88,370.15 755.22,370.36 755.56,370.41 755.90,370.70 756.24,370.80 756.58,370.51 756.92,370.35 757.26,370.34"/>
<rect x="77.5" y="5.4" width="680.3" height="369.0" fill="none" stroke="#484848" stroke-width="1.3"/>
<line x1="64" y1="373.60" x2="77.5" y2="373.60" stroke="#444" stroke-width="1.3"/>
<text class="tk" x="62" y="378.90" text-anchor="end">0</text>
<line x1="64" y1="336.89" x2="77.5" y2="336.89" stroke="#444" stroke-width="1.3"/>
<text class="tk" x="62" y="342.19" text-anchor="end">60</text>
<line x1="64" y1="300.18" x2="77.5" y2="300.18" stroke="#444" stroke-width="1.3"/>
<text class="tk" x="62" y="305.48" text-anchor="end">120</text>
<line x1="64" y1="263.48" x2="77.5" y2="263.48" stroke="#444" stroke-width="1.3"/>
<text class="tk" x="62" y="268.78" text-anchor="end">180</text>
<line x1="64" y1="226.77" x2="77.5" y2="226.77" stroke="#444" stroke-width="1.3"/>
<text class="tk" x="62" y="232.07" text-anchor="end">240</text>
<line x1="64" y1="190.06" x2="77.5" y2="190.06" stroke="#444" stroke-width="1.3"/>
<text class="tk" x="62" y="195.36" text-anchor="end">300</text>
<line x1="64" y1="153.35" x2="77.5" y2="153.35" stroke="#444" stroke-width="1.3"/>
<text class="tk" x="62" y="158.65" text-anchor="end">360</text>
<line x1="64" y1="116.64" x2="77.5" y2="116.64" stroke="#444" stroke-width="1.3"/>
<text class="tk" x="62" y="121.94" text-anchor="end">420</text>
<line x1="64" y1="79.94" x2="77.5" y2="79.94" stroke="#444" stroke-width="1.3"/>
<text class="tk" x="62" y="85.24" text-anchor="end">480</text>
<line x1="64" y1="43.23" x2="77.5" y2="43.23" stroke="#444" stroke-width="1.3"/>
<text class="tk" x="62" y="48.53" text-anchor="end">540</text>
<line x1="64" y1="6.52" x2="77.5" y2="6.52" stroke="#444" stroke-width="1.3"/>
<text class="tk" x="62" y="11.82" text-anchor="end">600</text>
<line x1="109.80" y1="374.4" x2="109.80" y2="387.90" stroke="#444" stroke-width="1.3"/>
<text class="tk" x="110.30" y="399.90" text-anchor="middle">5</text>
<line x1="190.80" y1="374.4" x2="190.80" y2="387.90" stroke="#444" stroke-width="1.3"/>
<text class="tk" x="191.30" y="399.90" text-anchor="middle">10</text>
<line x1="271.80" y1="374.4" x2="271.80" y2="387.90" stroke="#444" stroke-width="1.3"/>
<text class="tk" x="272.30" y="399.90" text-anchor="middle">15</text>
<line x1="352.80" y1="374.4" x2="352.80" y2="387.90" stroke="#444" stroke-width="1.3"/>
<text class="tk" x="353.30" y="399.90" text-anchor="middle">20</text>
<line x1="433.80" y1="374.4" x2="433.80" y2="387.90" stroke="#444" stroke-width="1.3"/>
<text class="tk" x="434.30" y="399.90" text-anchor="middle">25</text>
<line x1="514.80" y1="374.4" x2="514.80" y2="387.90" stroke="#444" stroke-width="1.3"/>
<text class="tk" x="515.30" y="399.90" text-anchor="middle">30</text>
<line x1="595.80" y1="374.4" x2="595.80" y2="387.90" stroke="#444" stroke-width="1.3"/>
<text class="tk" x="596.30" y="399.90" text-anchor="middle">35</text>
<line x1="676.80" y1="374.4" x2="676.80" y2="387.90" stroke="#444" stroke-width="1.3"/>
<text class="tk" x="677.30" y="399.90" text-anchor="middle">40</text>
<line x1="757.80" y1="374.4" x2="757.80" y2="387.90" stroke="#444" stroke-width="1.3"/>
<text class="tk" x="758.30" y="399.90" text-anchor="middle">45</text>
<text class="ax" x="376.2" y="423.8">2-Theta</text>
<text class="ay" transform="translate(13.9,244.2) rotate(-90)">Intensity(CPS)</text>
<text class="ttl" x="90.5" y="31.8">XD2P-B18</text>
<text class="av" transform="translate(175.40,318.40) rotate(-90)">d=9.991</text>
<text class="an" x="143.1" y="329.4">clay-minerals</text>
<text class="av" transform="translate(368.80,295.20) rotate(-90)">d=4.257</text>
<text class="an" x="350.6" y="301.5">quartz</text>
<text class="av" transform="translate(389.00,326.40) rotate(-90)">d=4.027</text>
<text class="an" x="372.6" y="334">plagio</text>
<text class="an" x="372.6" y="344">-clase</text>
<text class="av" transform="translate(407.90,338.70) rotate(-90)">d=3.846</text>
<text class="an" x="399.3" y="348">calcite</text>
<text class="av" transform="translate(463.00,81.60) rotate(-90)">d=3.343</text>
<text class="an" x="464.2" y="92.3">quartz</text>
<text class="av" transform="translate(485.10,333.00) rotate(-90)">d=3.19</text>
<text class="an" x="471.6" y="343.8">plagio</text>
<text class="an" x="471.6" y="356.5">-clase</text>
<text class="av" transform="translate(508.20,279.90) rotate(-90)">d=3.031</text>
<text class="an" x="490.6" y="289.2">calcite</text>
<text class="av" transform="translate(531.20,348.50) rotate(-90)">d=2.893</text>
<text class="an" x="510.5" y="357.2">dolomite</text>
<text class="av" transform="translate(567.30,344.50) rotate(-90)">d=2.708</text>
<text class="an" x="553.5" y="356.3">pyrite</text>
<text class="an" x="589.6" y="359.5">calcite</text>
<text class="av" transform="translate(612.90,345.50) rotate(-90)">d=2.489</text>
<text class="an" x="605.2" y="349.1">quartz</text>
<text class="av" transform="translate(623.80,337.40) rotate(-90)">d=2.456</text>
<text class="av" transform="translate(633.80,328.20) rotate(-90)">d=2.424</text>
<text class="an" x="626.5" y="338.7">pyrite</text>
<text class="av" transform="translate(670.00,334.00) rotate(-90)">d=2.281</text>
<text class="an" x="646.3" y="343.4">quartz</text>
<text class="av" transform="translate(684.40,351.20) rotate(-90)">d=2.237</text>
<text class="an" x="670.5" y="361">dolomite</text>
<text class="av" transform="translate(718.20,345.40) rotate(-90)">d=2.128</text>
<text class="av" transform="translate(732.30,345.40) rotate(-90)">d=2.091</text>
<text class="an" x="709.6" y="355.9">calcite</text>
<polyline fill="none" stroke="#333" stroke-width="0.7" stroke-linejoin="round" stroke-linecap="round" points="77.60,733.89 77.94,736.47 78.28,736.36 78.62,738.40 78.96,741.30 79.30,747.77 79.64,750.90 79.98,752.67 80.32,753.20 80.66,754.28 81.00,754.70 81.34,757.68 81.68,756.74 82.02,757.45 82.36,758.47 82.70,759.28 83.04,761.06 83.38,761.27 83.72,761.70 84.06,762.37 84.40,763.67 84.74,763.07 85.08,763.67 85.42,764.34 85.76,763.41 86.10,764.35 86.44,765.62 86.78,766.34 87.12,765.88 87.46,765.73 87.80,767.11 88.14,766.58 88.48,766.80 88.82,767.18 89.16,767.24 89.50,767.30 89.84,767.96 90.18,767.36 90.52,767.86 90.86,768.19 91.20,768.24 91.54,769.10 91.88,769.51 92.22,769.68 92.56,769.85 92.90,770.70 93.24,771.71 93.58,771.05 93.92,769.03 94.26,771.10 94.60,769.96 94.94,770.11 95.28,771.41 95.62,771.35 95.96,773.17 96.30,773.04 96.64,772.05 96.98,771.81 97.32,773.34 97.66,774.27 98.00,774.14 98.34,775.18 98.68,774.83 99.02,774.90 99.36,774.56 99.70,775.00 100.04,774.72 100.38,774.41 100.72,776.82 101.06,776.03 101.40,776.18 101.74,776.98 102.08,776.56 102.42,776.67 102.76,776.77 103.10,776.34 103.44,777.81 103.78,777.48 104.12,777.10 104.46,778.02 104.80,777.87 105.14,777.30 105.48,777.96 105.82,778.22 106.16,778.58 106.50,778.86 106.84,778.99 107.18,778.21 107.52,778.74 107.86,778.69 108.20,779.36 108.54,778.50 108.88,778.15 109.22,779.64 109.56,781.64 109.90,781.22 110.24,780.88 110.58,781.99 110.92,780.88 111.26,780.85 111.60,781.56 111.94,781.45 112.28,781.25 112.62,781.16 112.96,781.62 113.30,782.17 113.64,781.15 113.98,781.62 114.32,783.14 114.66,783.67 115.00,781.71 115.34,782.76 115.68,783.64 116.02,782.83 116.36,782.76 116.70,783.67 117.04,782.95 117.38,782.76 117.72,782.83 118.06,782.37 118.40,782.24 118.74,784.29 119.08,784.95 119.42,784.24 119.76,784.01 120.10,784.38 120.44,784.00 120.78,783.21 121.12,783.62 121.46,784.61 121.80,784.32 122.14,783.67 122.48,783.96 122.82,785.08 123.16,784.39 123.50,785.57 123.84,785.42 124.18,784.68 124.52,785.02 124.86,785.46 125.20,785.69 125.54,785.87 125.88,786.52 126.22,786.29 126.56,785.56 126.90,785.57 127.24,785.33 127.58,785.60 127.92,785.76 128.26,784.87 128.60,785.97 128.94,786.22 129.28,786.05 129.62,785.61 129.96,785.93 130.30,786.07 130.64,786.22 130.98,785.34 131.32,786.37 131.66,786.96 132.00,786.38 132.34,786.46 132.68,787.66 133.02,788.72 133.36,787.94 133.70,787.75 134.04,787.59 134.38,787.97 134.72,787.87 135.06,787.28 135.40,787.94 135.74,788.28 136.08,787.69 136.42,788.26 136.76,788.90 137.10,788.82 137.44,788.59 137.78,789.52 138.12,789.11 138.46,788.18 138.80,787.37 139.14,788.13 139.48,788.54 139.82,788.41 140.16,788.79 140.50,789.63 140.84,789.49 141.18,789.42 141.52,788.26 141.86,788.87 142.20,789.51 142.54,788.90 142.88,789.78 143.22,788.57 143.56,788.84 143.90,789.69 144.24,788.43 144.58,789.40 144.92,788.75 145.26,788.78 145.60,789.47 145.94,789.68 146.28,789.98 146.62,789.74 146.96,789.56 147.30,789.33 147.64,789.75 147.98,788.92 148.32,790.17 148.66,790.43 149.00,790.99 149.34,790.85 149.68,789.65 150.02,790.23 150.36,789.79 150.70,789.94 151.04,790.60 151.38,790.59 151.72,790.51 152.06,790.29 152.40,790.24 152.74,789.67 153.08,789.92 153.42,790.42 153.76,789.73 154.10,789.98 154.44,790.66 154.78,790.34 155.12,790.00 155.46,790.62 155.80,791.02 156.14,789.95 156.48,789.63 156.82,790.32 157.16,790.08 157.50,790.23 157.84,790.17 158.18,790.10 158.52,790.54 158.86,790.63 159.20,790.26 159.54,791.22 159.88,791.47 160.22,790.80 160.56,790.99 160.90,791.41 161.24,790.20 161.58,790.11 161.92,790.54 162.26,790.87 162.60,791.22 162.94,790.90 163.28,790.10 163.62,791.32 163.96,791.44 164.30,790.50 164.64,790.86 164.98,790.43 165.32,790.35 165.66,790.44 166.00,791.25 166.34,790.32 166.68,790.50 167.02,790.70 167.36,790.08 167.70,790.20 168.04,790.50 168.38,791.08 168.72,789.89 169.06,790.19 169.40,790.33 169.74,790.19 170.08,790.64 170.42,789.77 170.76,789.02 171.10,788.85 171.44,787.93 171.78,786.02"/>
<polyline fill="none" stroke="#333" stroke-width="0.5" stroke-linejoin="round" stroke-linecap="round" points="171.78,786.02 172.12,786.01 172.46,786.28 172.80,786.75"/>
<polyline fill="none" stroke="#333" stroke-width="0.7" stroke-linejoin="round" stroke-linecap="round" points="172.80,786.75 173.14,787.58 173.48,789.25 173.82,789.80 174.16,789.42 174.50,789.95 174.84,791.00 175.18,789.96 175.52,789.24 175.86,790.05 176.20,790.55 176.54,790.77 176.88,790.53 177.22,791.33 177.56,790.42 177.90,790.59 178.24,791.00 178.58,790.31 178.92,789.27 179.26,790.51 179.60,790.50 179.94,790.17 180.28,790.93 180.62,790.86 180.96,789.88 181.30,789.14 181.64,788.99 181.98,789.67 182.32,789.63 182.66,789.48 183.00,788.46 183.34,789.35 183.68,789.04 184.02,789.57 184.36,790.70 184.70,789.89 185.04,790.04 185.38,789.82 185.72,789.80 186.06,789.46 186.40,789.32 186.74,789.60 187.08,788.52 187.42,788.67 187.76,789.23 188.10,789.34 188.44,789.99 188.78,789.10 189.12,788.81 189.46,788.76 189.80,788.15 190.14,789.26 190.48,788.72 190.82,788.82 191.16,788.07 191.50,787.73 191.84,788.28 192.18,788.39 192.52,788.62 192.86,788.46 193.20,789.61 193.54,788.54 193.88,787.69 194.22,788.24 194.56,788.94 194.90,788.29 195.24,787.58 195.58,787.80 195.92,788.55 196.26,788.77 196.60,787.87 196.94,788.47 197.28,787.83 197.62,788.75 197.96,787.69 198.30,786.96 198.64,787.33 198.98,787.61 199.32,788.04 199.66,788.19 200.00,787.74 200.34,786.92 200.68,787.21 201.02,787.09 201.36,787.19 201.70,786.88 202.04,786.95 202.38,788.31 202.72,786.88 203.06,785.84 203.40,786.53 203.74,787.39 204.08,787.00 204.42,786.35 204.76,787.29 205.10,787.67 205.44,785.92 205.78,786.29 206.12,786.84 206.46,787.02 206.80,786.59 207.14,786.53 207.48,785.72 207.82,786.55 208.16,785.37 208.50,784.66 208.84,785.60 209.18,785.62 209.52,785.07 209.86,785.25 210.20,785.64 210.54,785.21 210.88,785.12 211.22,785.82 211.56,785.64 211.90,784.81 212.24,785.02 212.58,784.83 212.92,785.26 213.26,785.62 213.60,785.61 213.94,784.90 214.28,784.94 214.62,784.58 214.96,785.23 215.30,785.01 215.64,784.67 215.98,784.68 216.32,783.60 216.66,783.86 217.00,784.62 217.34,785.19 217.68,784.38 218.02,784.73 218.36,785.05 218.70,784.21 219.04,784.44 219.38,784.31 219.72,785.42 220.06,784.69 220.40,784.62 220.74,783.93 221.08,784.15 221.42,784.01 221.76,784.57 222.10,783.73 222.44,784.99 222.78,784.41 223.12,784.26 223.46,783.69 223.80,784.03 224.14,784.05 224.48,783.95 224.82,783.92 225.16,782.76 225.50,782.12 225.84,783.66 226.18,783.04 226.52,783.66 226.86,782.84 227.20,783.38 227.54,784.93 227.88,784.59 228.22,783.36 228.56,782.84 228.90,783.01 229.24,781.60 229.58,782.83 229.92,781.90 230.26,781.55 230.60,782.08 230.94,781.98 231.28,782.27 231.62,783.30 231.96,783.10 232.30,782.89 232.64,783.63 232.98,784.02 233.32,784.11 233.66,783.53 234.00,783.41 234.34,784.31 234.68,783.98 235.02,784.18 235.36,783.11 235.70,783.25 236.04,784.08 236.38,784.39 236.72,784.69 237.06,785.15 237.40,785.17 237.74,784.31 238.08,784.47 238.42,784.95 238.76,784.75 239.10,784.89 239.44,785.93 239.78,785.41 240.12,783.82 240.46,784.20 240.80,784.79 241.14,785.67 241.48,784.28 241.82,785.11 242.16,785.13 242.50,784.84 242.84,785.43 243.18,784.86 243.52,784.12 243.86,784.55 244.20,785.82 244.54,785.31 244.88,786.06 245.22,785.47 245.56,784.37 245.90,784.53 246.24,785.90 246.58,786.65 246.92,785.92 247.26,785.67 247.60,785.79 247.94,785.96 248.28,786.06 248.62,785.89 248.96,785.95 249.30,785.97 249.64,786.12 249.98,785.77 250.32,786.45 250.66,787.04 251.00,786.84 251.34,786.41 251.68,787.58 252.02,787.87 252.36,786.60 252.70,787.83 253.04,787.93 253.38,787.07 253.72,786.57 254.06,788.01 254.40,788.63 254.74,788.71 255.08,788.88 255.42,788.87 255.76,788.52 256.10,789.09 256.44,789.32 256.78,788.73 257.12,788.35 257.46,789.70 257.80,788.95 258.14,788.42 258.48,789.65 258.82,790.12 259.16,789.81 259.50,789.89 259.84,790.15 260.18,789.29 260.52,789.64 260.86,789.67 261.20,790.37 261.54,790.44 261.88,791.54 262.22,790.76 262.56,789.89 262.90,789.96 263.24,791.66 263.58,791.93 263.92,791.28 264.26,791.12 264.60,791.50 264.94,790.76 265.28,789.39 265.62,790.41 265.96,791.39 266.30,791.92 266.64,792.14 266.98,792.25 267.32,791.50 267.66,791.63 268.00,792.03 268.34,792.47 268.68,791.61 269.02,791.99 269.36,792.94 269.70,792.74 270.04,792.83 270.38,792.30 270.72,793.34 271.06,794.04 271.40,793.93 271.74,793.80 272.08,793.76 272.42,793.91 272.76,794.24 273.10,795.10 273.44,794.88 273.78,794.17 274.12,794.17 274.46,794.07 274.80,793.82 275.14,794.40 275.48,794.45 275.82,794.97 276.16,794.67 276.50,794.88 276.84,795.10 277.18,794.75 277.52,795.17 277.86,794.69 278.20,795.13 278.54,794.76 278.88,794.72 279.22,795.35 279.56,795.03 279.90,794.74 280.24,794.95 280.58,795.31 280.92,795.79 281.26,795.30 281.60,795.55 281.94,796.40 282.28,796.96 282.62,796.29 282.96,796.75 283.30,797.32 283.64,797.25 283.98,797.69 284.32,797.43 284.66,796.94 285.00,797.87 285.34,797.96 285.68,798.71 286.02,798.11 286.36,798.45 286.70,798.23 287.04,797.88 287.38,797.82 287.72,798.20 288.06,798.38 288.40,798.05 288.74,798.21 289.08,798.32 289.42,798.47 289.76,799.33 290.10,799.08 290.44,798.10 290.78,798.91 291.12,799.02 291.46,799.32 291.80,798.87 292.14,798.81 292.48,798.88 292.82,798.64 293.16,799.22 293.50,800.02 293.84,800.08 294.18,800.11 294.52,799.56 294.86,799.20 295.20,799.00 295.54,799.93 295.88,800.85 296.22,800.82 296.56,800.70 296.90,800.86 297.24,800.65 297.58,800.51 297.92,800.59 298.26,799.88 298.60,799.76 298.94,799.89 299.28,799.87 299.62,800.70 299.96,800.88 300.30,800.89 300.64,800.76 300.98,800.81 301.32,800.77 301.66,801.84 302.00,801.83 302.34,801.71 302.68,801.91 303.02,801.42 303.36,801.72 303.70,801.67 304.04,801.63 304.38,801.77 304.72,801.73 305.06,801.32 305.40,802.13 305.74,801.50 306.08,801.78 306.42,801.67 306.76,801.58 307.10,801.57 307.44,801.66 307.78,801.93 308.12,802.42 308.46,802.45 308.80,802.29 309.14,803.21 309.48,802.43 309.82,802.43 310.16,802.44 310.50,802.48 310.84,801.95 311.18,802.03 311.52,801.90 311.86,802.34 312.20,802.48 312.54,802.77 312.88,802.59 313.22,802.87 313.56,802.80 313.90,803.42 314.24,802.80 314.58,802.80 314.92,802.34 315.26,802.87 315.60,803.43 315.94,802.25 316.28,803.05 316.62,802.98 316.96,802.88 317.30,803.27 317.64,802.74 317.98,802.80 318.32,803.20 318.66,803.66 319.00,803.15 319.34,803.49 319.68,803.59 320.02,803.76 320.36,804.05 320.70,803.46 321.04,803.62 321.38,803.83 321.72,804.51 322.06,804.91 322.40,804.57 322.74,804.65 323.08,804.63 323.42,804.49 323.76,804.39 324.10,804.45 324.44,805.41 324.78,804.95 325.12,804.88 325.46,805.01 325.80,804.89 326.14,804.90 326.48,805.17 326.82,805.37 327.16,805.32 327.50,805.64 327.84,805.01 328.18,805.58 328.52,805.99 328.86,805.71 329.20,805.37 329.54,805.74 329.88,805.63 330.22,806.08 330.56,806.51 330.90,806.59 331.24,805.91 331.58,805.89 331.92,806.00 332.26,806.39 332.60,806.49 332.94,805.93 333.28,806.72 333.62,806.92 333.96,805.97 334.30,806.45 334.64,806.37 334.98,806.44 335.32,806.48 335.66,806.99 336.00,807.03 336.34,806.89 336.68,807.06 337.02,807.40 337.36,806.63 337.70,806.41 338.04,806.02 338.38,806.39 338.72,806.56 339.06,806.28 339.40,806.91 339.74,806.73 340.08,806.51 340.42,806.35 340.76,806.69 341.10,806.59 341.44,806.85 341.78,806.40 342.12,806.60 342.46,806.56 342.80,806.86 343.14,806.62 343.48,806.86 343.82,806.57 344.16,806.42 344.50,806.69 344.84,806.75 345.18,806.64 345.52,806.60 345.86,806.65 346.20,805.99 346.54,805.31 346.88,805.47 347.22,805.36 347.56,804.53 347.90,804.63 348.24,804.98 348.58,804.87 348.92,805.24 349.26,805.53 349.60,806.03 349.94,806.20 350.28,805.83 350.62,806.10 350.96,806.98 351.30,807.17 351.64,806.82 351.98,806.93 352.32,806.56 352.66,806.38 353.00,806.89 353.34,807.56 353.68,807.26 354.02,806.92 354.36,807.47 354.70,807.50 355.04,807.23 355.38,806.88 355.72,806.90 356.06,807.23 356.40,807.05 356.74,807.38 357.08,806.98 357.42,807.19 357.76,807.98 358.10,807.47 358.44,807.11 358.78,807.37 359.10,807.64 359.12,807.65 359.35,807.61 359.46,807.60 359.60,807.50 359.80,807.36 359.85,807.39 360.10,807.55 360.14,807.58 360.35,807.69 360.48,807.76 360.60,807.56 360.82,807.18 360.85,807.15 361.10,806.86 361.16,806.79 361.35,806.91 361.44,806.96 361.50,806.92 361.60,806.78 361.84,806.44 361.85,806.43 362.10,806.24 362.18,806.18 362.35,806.02 362.52,805.87 362.60,805.56 362.85,804.58 362.86,804.54 363.10,804.89 363.15,804.97 363.20,804.93 363.35,804.68 363.54,804.37 363.60,804.17 363.85,803.35"/>
<polyline fill="none" stroke="#333" stroke-width="0.5" stroke-linejoin="round" stroke-linecap="round" points="363.85,803.35 363.88,803.25 364.10,802.18 364.22,801.59 364.23,801.54 364.35,800.40 364.56,798.41 364.60,798.14 364.85,796.44 364.86,796.38 364.90,795.57 365.10,791.41 365.22,788.90 365.24,788.19 365.35,784.19 365.40,782.37 365.49,774.13 365.58,772.90 365.60,772.63 365.85,769.22 365.92,768.27 366.07,766.58 366.10,764.68 366.26,752.55 366.30,749.46 366.35,752.73 366.57,767.14 366.60,767.58 366.85,770.99 366.94,772.22 367.10,774.82 367.11,774.98 367.28,780.50 367.35,782.44 367.38,783.27 367.56,789.23 367.60,789.69 367.62,789.92 367.85,793.38 367.96,795.03 368.10,796.85 368.30,798.87 368.35,799.46 368.60,802.40 368.64,802.87 368.85,803.87 368.98,804.49"/>
<polyline fill="none" stroke="#333" stroke-width="0.7" stroke-linejoin="round" stroke-linecap="round" points="368.98,804.49 369.10,804.89 369.32,805.63 369.35,805.79 369.60,807.13 369.63,807.29 369.66,807.34 369.85,807.26 370.00,807.21 370.10,807.43 370.34,807.94 370.35,807.95 370.60,808.20 370.68,808.28 370.85,808.43 371.02,808.59 371.10,808.55 371.34,808.42 371.35,808.41 371.36,808.40 371.60,808.44 371.70,808.46 371.85,808.34 372.04,808.19 372.10,808.24 372.35,808.43 372.38,808.45 372.60,808.48 372.72,808.50 372.85,808.51 373.06,808.53 373.10,808.52 373.35,808.46 373.40,808.45 373.60,808.36 373.74,808.30 373.85,808.43 374.08,808.71 374.10,808.71 374.35,808.65 374.42,808.63 374.76,808.45 375.10,808.94 375.44,809.27 375.78,808.79 376.12,808.64 376.46,809.12 376.80,809.08 377.14,809.21 377.48,809.20 377.82,809.61 378.16,809.55 378.50,808.83 378.84,808.92 379.18,809.31 379.52,809.70 379.86,809.51 380.20,809.73 380.54,809.58 380.88,809.40 381.22,808.94 381.56,809.33 381.90,809.29 382.24,809.17 382.58,809.05 382.92,808.93 383.26,809.23 383.60,809.45 383.94,808.92 384.28,808.41 384.62,808.06 384.96,807.64 385.30,807.77 385.64,808.28 385.98,808.69 386.32,809.06 386.66,809.23 387.00,809.37 387.34,809.32 387.68,809.84 388.02,809.42 388.36,809.58 388.70,809.67 389.04,809.16 389.38,809.84 389.72,809.68 390.06,809.55 390.40,809.79 390.74,809.90 391.08,809.96 391.42,810.18 391.76,809.80 392.10,809.61 392.44,809.39 392.78,809.99 393.12,810.32 393.46,810.09 393.80,809.59 394.14,809.56 394.48,809.64 394.82,810.22 395.16,810.37 395.50,809.96 395.84,809.81 396.18,809.80 396.52,809.66 396.86,810.05 397.20,810.12 397.54,810.50 397.88,810.04 398.22,810.16 398.56,810.43 398.90,810.15 399.24,809.94 399.58,810.37 399.92,810.37 400.26,810.09 400.60,809.70 400.94,809.53 401.28,809.10 401.62,808.88 401.96,809.06 402.30,809.21 402.64,809.63 402.98,809.93 403.32,809.79 403.66,809.65 404.00,810.32 404.34,810.40 404.68,810.21 405.02,810.39 405.36,810.57 405.70,810.57 406.04,810.40 406.38,810.44 406.72,809.78 407.06,809.94 407.40,810.40 407.74,810.33 408.08,810.54 408.42,810.37 408.76,810.25 409.10,810.23 409.44,810.06 409.78,810.39 410.12,810.55 410.46,810.44 410.80,810.37 411.14,809.88 411.48,810.17 411.82,810.25 412.16,810.43 412.50,809.97 412.84,810.20 413.18,810.01 413.52,810.08 413.86,809.96 414.20,809.88 414.54,809.85 414.88,809.86 415.22,809.86 415.56,809.50 415.90,809.52 416.24,809.46 416.58,809.81 416.92,809.75 417.26,809.65 417.60,809.38 417.94,809.55 418.28,809.71 418.62,809.72 418.96,809.90 419.30,810.01 419.64,809.87 419.98,810.28 420.32,809.70 420.66,809.72 421.00,808.88 421.34,808.96 421.68,809.43 422.02,809.38 422.36,809.63 422.70,809.50 423.04,809.40 423.38,809.97 423.72,809.83 424.06,809.81 424.40,809.72 424.74,809.99 425.08,810.04 425.42,809.85 425.76,809.83 426.10,810.08 426.44,809.94 426.78,810.00 427.12,810.29 427.46,810.47 427.80,810.61 428.14,810.60 428.48,810.78 428.82,810.19 429.16,809.90 429.50,809.79 429.84,809.81 430.18,810.04 430.52,809.98 430.86,809.89 431.20,810.33 431.54,810.28 431.88,809.80 432.22,809.78 432.56,810.26 432.90,809.93 433.24,809.89 433.58,809.77 433.92,809.96 434.26,809.70 434.60,810.14 434.94,810.19 435.28,809.67 435.62,810.10 435.96,810.03 436.30,809.98 436.64,810.16 436.98,809.67 437.32,809.42 437.66,809.69 438.00,809.48 438.34,809.73 438.68,809.63 439.02,809.44 439.36,809.70 439.70,809.52 440.04,809.31 440.38,809.48 440.72,809.21 441.06,809.55 441.40,809.43 441.74,809.36 442.08,809.57 442.42,809.78 442.76,809.14 443.10,809.63 443.44,809.47 443.78,809.52 444.12,809.29 444.46,809.16 444.80,809.04 445.14,808.99 445.48,809.20 445.82,808.80 446.16,809.52 446.50,809.18 446.84,809.02 447.18,809.03 447.52,809.17 447.86,808.89 448.20,809.21 448.54,808.98 448.88,808.77 449.22,808.78 449.56,809.09 449.90,808.28 450.24,808.31 450.58,808.46 450.92,808.41 451.26,808.68 451.60,808.48 451.85,808.43 451.94,808.42 452.10,808.37 452.28,808.32 452.35,808.26 452.60,808.05 452.62,808.03 452.85,808.15 452.96,808.20 453.10,808.25 453.30,807.99 453.35,808.00 453.60,808.01 453.64,808.02 453.85,807.76 453.98,807.60 454.10,807.34 454.32,806.85 454.35,806.75 454.60,805.92 454.66,805.65 454.85,805.09 455.00,804.66 455.10,804.27 455.34,803.34"/>
<polyline fill="none" stroke="#333" stroke-width="0.5" stroke-linejoin="round" stroke-linecap="round" points="455.34,803.34 455.35,803.31 455.60,802.64 455.68,802.43 455.85,802.12 455.90,802.02 456.02,801.24 456.10,800.62 456.35,798.67 456.36,798.60 456.60,797.04 456.70,796.39 456.85,794.25 457.04,791.53 457.10,790.60 457.20,789.05 457.35,783.92 457.38,782.89 457.60,775.34 457.72,770.69 457.85,765.83 458.06,757.98 458.10,756.47 458.15,754.59 458.35,745.95 458.40,743.80 458.60,735.00 458.70,730.60 458.74,726.33 458.85,714.57 459.08,689.96 459.10,687.83 459.15,682.50 459.35,628.64 459.42,595.13 459.60,509.27 459.76,564.16 459.85,594.95 459.95,629.16 460.10,637.71 460.35,651.61 460.44,656.62 460.60,665.67 460.78,675.85 460.85,679.82 460.90,682.65 461.10,698.89 461.12,700.52 461.35,719.16 461.46,728.08 461.60,739.52 461.80,745.61 461.85,747.10 462.10,754.55 462.14,755.74 462.35,761.62 462.45,764.42 462.48,765.11 462.60,768.19 462.82,773.82 462.85,774.62 463.10,781.36 463.16,782.98 463.35,787.70 463.40,788.94 463.50,789.94 463.60,790.95 463.84,793.35 463.85,793.46 464.10,796.03 464.18,796.85 464.35,798.74 464.50,800.40 464.52,800.49 464.60,800.74 464.85,801.52 464.86,801.55 465.10,802.62 465.20,803.07 465.35,803.49 465.54,804.02 465.60,804.17 465.85,804.77"/>
<polyline fill="none" stroke="#333" stroke-width="0.7" stroke-linejoin="round" stroke-linecap="round" points="465.85,804.77 465.88,804.84 466.10,805.94 466.22,806.29 466.35,806.41 466.56,806.60 466.60,806.66 466.85,807.06 466.90,807.14 467.10,807.16 467.24,807.18 467.35,807.42 467.58,807.91 467.60,807.98 467.80,808.69 467.85,808.79 467.92,808.94 468.10,808.88 468.26,808.82 468.35,808.79 468.60,808.70 468.94,809.03 469.28,808.65 469.62,808.90 469.96,808.60 470.30,808.49 470.64,808.53 470.98,808.77 471.32,808.52 471.66,808.86 472.00,808.56 472.34,808.50 472.68,808.25 473.02,808.46 473.36,808.42 473.70,808.41 474.04,809.05 474.38,809.31 474.72,809.39 475.06,809.24 475.40,809.23 475.74,809.57 476.08,809.25 476.42,809.41 476.76,808.99 477.10,809.36 477.44,809.39 477.78,809.17 478.12,809.47 478.46,809.44 478.80,809.18 479.14,809.24 479.48,808.52 479.82,808.77 480.16,808.26 480.50,807.73 480.84,807.13 481.18,807.11 481.52,806.65 481.86,807.07 482.20,807.72 482.54,808.65 482.88,809.06 483.22,808.89 483.56,809.09 483.90,809.24 484.24,810.21 484.58,809.86 484.92,809.75 485.26,810.02 485.60,810.30 485.94,809.94 486.28,810.42 486.62,810.19 486.96,809.77 487.30,810.36 487.64,810.15 487.98,810.00 488.32,810.21 488.66,810.14 489.00,809.87 489.34,809.14 489.68,809.46 490.02,809.26 490.36,808.79 490.70,808.89 491.04,809.32 491.38,809.76 491.72,809.96 492.06,810.10 492.40,810.34 492.74,810.27 493.08,810.17 493.42,810.90 493.76,810.81 494.10,810.49 494.44,810.51 494.78,810.31 495.12,810.06 495.46,810.74 495.80,810.75 496.14,810.93 496.48,810.62 496.82,810.69 497.16,810.70 497.50,810.60 497.84,810.37 498.18,810.36 498.52,810.33 498.86,810.27 499.20,810.40 499.54,810.74 499.88,810.99 500.22,810.21 500.56,810.15 500.90,810.65 501.24,810.11 501.40,809.97 501.58,809.81 501.60,809.81 501.80,809.82 501.92,809.83 502.00,809.74 502.20,809.53 502.26,809.46 502.40,809.45 502.60,809.42 502.80,809.56 502.94,809.63 503.00,809.44 503.20,808.77 503.28,808.48 503.40,808.31 503.60,807.93 503.62,807.88 503.80,807.53 503.96,807.05 504.00,806.85"/>
<polyline fill="none" stroke="#333" stroke-width="0.5" stroke-linejoin="round" stroke-linecap="round" points="504.00,806.85 504.20,805.68 504.30,804.99 504.40,804.26 504.60,802.64 504.64,802.31 504.80,800.74 504.98,799.08 505.00,798.91 505.20,797.45 505.32,796.92 505.40,796.83 505.60,797.24 505.66,797.52 505.80,798.42 506.00,800.05 506.20,801.96 506.34,803.26 506.40,803.72 506.60,805.10 506.68,805.59 506.80,806.24 507.00,807.12"/>
<polyline fill="none" stroke="#333" stroke-width="0.7" stroke-linejoin="round" stroke-linecap="round" points="507.00,807.12 507.02,807.20 507.20,807.87 507.36,808.34 507.40,808.51 507.60,809.27 507.70,809.61 507.80,809.57 508.00,809.44 508.04,809.41 508.20,809.64 508.38,809.87 508.40,809.87 508.60,809.85 508.72,809.82 508.80,809.92 509.00,810.15 509.06,810.22 509.20,810.30 509.40,810.42 509.74,810.23 510.08,810.42 510.42,810.51 510.76,810.33 511.10,810.74 511.44,810.38 511.78,810.26 512.12,810.39 512.46,810.31 512.80,810.60 513.14,811.22 513.48,811.23 513.82,811.08 514.16,810.50 514.50,810.98 514.84,811.42 515.18,811.20 515.52,811.29 515.86,811.08 516.20,810.94 516.54,810.91 516.88,811.13 517.22,811.29 517.56,811.36 517.90,810.71 518.24,810.61 518.58,810.91 518.92,811.11 519.26,810.81 519.60,811.29 519.94,811.52 520.28,811.02 520.62,811.38 520.96,811.31 521.30,811.50 521.64,811.15 521.98,810.56 522.32,810.79 522.66,810.86 523.00,810.92 523.34,811.15 523.68,810.80 524.02,810.99 524.36,810.66 524.70,810.55 525.04,810.66 525.30,810.28 525.38,810.16 525.50,810.13 525.70,810.07 525.72,810.06 525.90,810.16 526.06,810.24 526.10,810.25 526.30,810.28 526.40,810.28 526.50,810.11 526.70,809.74 526.74,809.66 526.90,809.46 527.08,809.16 527.10,809.13 527.30,808.77 527.42,808.48 527.50,808.17 527.70,807.27 527.76,806.96 527.90,806.39"/>
<polyline fill="none" stroke="#333" stroke-width="0.5" stroke-linejoin="round" stroke-linecap="round" points="527.90,806.39 528.10,805.41 528.30,803.93 528.44,802.82 528.50,802.42 528.70,801.12 528.78,800.63 528.90,799.89 529.10,798.98 529.12,798.91 529.30,798.90 529.46,799.34 529.50,799.40 529.70,800.03 529.80,800.50 529.90,801.15 530.10,802.56 530.14,802.85 530.30,804.02 530.48,805.25 530.50,805.37 530.70,806.50 530.82,807.08"/>
<polyline fill="none" stroke="#333" stroke-width="0.7" stroke-linejoin="round" stroke-linecap="round" points="530.82,807.08 530.90,807.50 531.10,808.42 531.16,808.67 531.30,809.04 531.50,809.45 531.70,809.44 531.84,809.37 531.90,809.48 532.10,809.79 532.18,809.90 532.30,810.04 532.50,810.25 532.52,810.27 532.70,810.18 532.86,810.08 532.90,810.16 533.10,810.51 533.20,810.69 533.54,810.73 533.88,811.02 534.22,811.40 534.56,811.41 534.90,811.10 535.24,811.29 535.58,811.56 535.92,811.42 536.26,811.98 536.60,811.50 536.94,811.28 537.28,811.20 537.62,811.35 537.96,811.48 538.30,811.58 538.64,811.79 538.98,811.85 539.32,811.94 539.66,811.84 540.00,811.89 540.34,811.84 540.68,811.75 541.02,811.70 541.36,811.99 541.70,812.09 542.04,811.89 542.38,812.05 542.72,811.93 543.06,811.95 543.40,811.83 543.74,812.20 544.08,812.23 544.42,811.91 544.76,811.84 545.10,812.24 545.44,811.98 545.78,812.14 546.12,812.23 546.46,812.29 546.80,812.45 547.14,812.46 547.48,812.41 547.82,812.49 548.16,812.51 548.50,812.71 548.84,812.77 549.18,812.65 549.52,812.78 549.86,812.93 550.20,812.46 550.54,812.70 550.88,812.72 551.22,813.01 551.56,812.81 551.90,812.49 552.24,812.43 552.58,812.72 552.92,812.97 553.26,812.71 553.60,812.51 553.94,812.39 554.28,812.38 554.62,812.72 554.96,812.51 555.30,812.67 555.64,812.60 555.98,812.37 556.32,812.63 556.66,812.06 557.00,811.82 557.34,812.22 557.68,812.33 558.02,812.06 558.36,812.22 558.70,812.13 559.04,811.98 559.38,811.94 559.72,811.71 560.06,811.89 560.40,812.03 560.74,811.86 561.08,811.75 561.42,811.58 561.76,811.19 562.10,810.57 562.44,809.75 562.78,808.77 563.12,807.87"/>
<polyline fill="none" stroke="#333" stroke-width="0.5" stroke-linejoin="round" stroke-linecap="round" points="563.12,807.87 563.46,808.09 563.80,808.31"/>
<polyline fill="none" stroke="#333" stroke-width="0.7" stroke-linejoin="round" stroke-linecap="round" points="563.80,808.31 564.14,809.46 564.48,810.14 564.82,810.64 565.16,811.46 565.50,811.37 565.84,811.91 566.18,811.88 566.52,812.17 566.86,811.70 567.20,812.26 567.54,812.30 567.88,812.30 568.22,812.31 568.56,812.09 568.90,812.35 569.24,812.37 569.58,812.53 569.92,812.69 570.26,812.36 570.60,812.48 570.94,812.46 571.28,812.36 571.62,812.23 571.96,812.42 572.30,812.72 572.64,812.53 572.98,812.40 573.32,812.88 573.66,812.99 574.00,812.90 574.34,812.87 574.68,812.97 575.02,813.06 575.36,812.88 575.70,812.80 576.04,812.57 576.38,812.71 576.72,812.71 577.06,812.82 577.40,812.70 577.74,812.64 578.08,812.95 578.42,813.17 578.76,812.51 579.10,812.38 579.44,812.32 579.78,812.22 580.12,812.53 580.46,812.50 580.80,812.53 581.14,812.62 581.48,812.62 581.82,812.96 582.16,812.64 582.50,812.45 582.84,812.25 583.18,811.96 583.52,812.02 583.86,811.89 584.20,811.80 584.54,811.82 584.88,811.78 585.22,811.84 585.56,811.49 585.90,811.67 586.24,811.86 586.58,812.00 586.92,811.38 587.26,811.20 587.60,811.54 587.94,811.38 588.28,811.43 588.62,811.42 588.96,811.69 589.30,811.22 589.64,811.13 589.98,810.78 590.32,810.75 590.66,810.57 591.00,810.72 591.34,810.75 591.68,810.58 592.02,810.43 592.36,810.36 592.70,810.37 593.04,810.70 593.38,810.51 593.72,810.31 594.06,810.20 594.40,810.26 594.74,810.44 595.08,810.22 595.42,810.55 595.76,810.54 596.10,810.37 596.44,810.43 596.78,810.54 597.12,810.79 597.46,810.93 597.80,811.29 598.14,811.35 598.48,811.01 598.82,811.47 599.16,811.44 599.50,811.37 599.84,811.39 600.18,811.40 600.52,811.62 600.86,811.61 601.20,811.80 601.54,811.62 601.88,811.83 602.22,811.98 602.56,812.14 602.90,811.92 603.24,812.05 603.58,812.36 603.92,812.30 604.26,812.38 604.60,812.21 604.94,812.36 605.28,812.68 605.62,812.82 605.96,813.08 606.30,812.72 606.64,812.37 606.98,812.13 607.32,812.41 607.66,812.55 608.00,812.31 608.34,812.20 608.68,812.50 609.02,812.65 609.36,812.33 609.70,811.88 610.04,811.99 610.38,811.95 610.72,811.75 611.06,811.27 611.40,810.89 611.74,811.21 612.08,811.63 612.42,811.82 612.76,811.86 613.10,811.72 613.44,811.92 613.78,812.19 614.12,811.77 614.46,811.93 614.80,811.95 615.14,811.77 615.48,811.71 615.82,811.67 616.16,811.79 616.40,811.90 616.50,811.94 616.60,811.91 616.80,811.84 616.84,811.83 617.00,811.55 617.18,811.23 617.20,811.20 617.40,810.91 617.52,810.72 617.60,810.76 617.80,810.82 617.86,810.83 618.00,810.60 618.20,810.19 618.40,809.73 618.54,809.29 618.60,809.05 618.80,808.05 618.88,807.57"/>
<polyline fill="none" stroke="#333" stroke-width="0.5" stroke-linejoin="round" stroke-linecap="round" points="618.88,807.57 619.00,806.78 619.20,805.20 619.22,805.02 619.40,803.28 619.56,801.56 619.60,801.11 619.80,798.84 619.90,797.75 620.00,796.79 620.20,795.34 620.24,795.16 620.40,794.93 620.58,795.54 620.60,795.63 620.80,796.99 620.92,798.10 621.00,799.02 621.20,801.39 621.26,802.10 621.40,803.54 621.60,805.37 621.80,806.78 621.94,807.58 622.00,807.95"/>
<polyline fill="none" stroke="#333" stroke-width="0.7" stroke-linejoin="round" stroke-linecap="round" points="622.00,807.95 622.20,809.00 622.28,809.35 622.40,809.73 622.60,810.23 622.62,810.27 622.80,810.69 622.96,811.00 623.00,811.01 623.20,811.06 623.30,811.07 623.40,811.07 623.60,811.04 623.64,811.04 623.80,811.00 623.98,810.96 624.00,810.96 624.20,810.91 624.32,810.87 624.66,811.20 625.00,811.21 625.34,811.59 625.68,811.50 626.02,811.54 626.36,811.15 626.70,811.24 627.04,810.76 627.38,810.71 627.72,810.27 628.06,809.47 628.40,809.56 628.74,810.05 629.08,810.72 629.42,810.63 629.76,811.28 630.10,811.48 630.44,811.49 630.78,811.27 631.12,811.35 631.46,811.74 631.80,812.04 632.14,811.98 632.48,811.66 632.82,811.66 633.16,811.91 633.50,812.36 633.84,812.26 634.18,812.29 634.52,812.30 634.86,812.04 635.20,812.13 635.54,812.07 635.88,812.26 636.22,812.27 636.56,812.42 636.90,812.37 637.24,812.28 637.58,812.68 637.92,812.57 638.26,812.43 638.60,812.50 638.94,812.71 639.28,812.83 639.62,812.55 639.96,812.72 640.30,812.56 640.64,812.30 640.98,812.71 641.32,812.74 641.66,812.89 642.00,812.59 642.34,812.64 642.68,812.82 643.02,812.98 643.36,813.31 643.70,812.97 644.04,813.15 644.38,813.18 644.72,812.73 645.06,812.81 645.40,813.02 645.74,813.10 646.08,813.14 646.42,813.53 646.76,813.58 647.10,813.21 647.44,813.12 647.78,813.01 648.12,813.14 648.46,812.94 648.80,813.35 649.14,813.54 649.48,813.21 649.82,813.16 650.16,813.50 650.50,813.40 650.84,813.35 651.18,813.77 651.52,813.55 651.86,813.48 652.20,813.19 652.54,813.08 652.88,813.21 653.22,813.25 653.56,813.33 653.90,813.16 654.24,813.53 654.58,813.68 654.92,813.92 655.26,813.58 655.60,813.47 655.94,813.37 656.28,813.37 656.62,813.51 656.96,813.37 657.30,813.26 657.64,813.24 657.98,813.06 658.32,813.19 658.66,812.95 659.00,813.00 659.34,813.04 659.68,813.15 660.02,813.34 660.36,813.03 660.70,812.95 661.04,812.78 661.38,812.74 661.72,813.19 662.06,812.88 662.40,812.47 662.74,812.67 663.08,812.76 663.42,812.61 663.60,812.41 663.76,812.24 663.80,812.22 664.00,812.16 664.10,812.12 664.20,812.10 664.40,812.03 664.44,812.02 664.60,811.80 664.78,811.52 664.80,811.49 665.00,811.15 665.12,810.90 665.20,810.79 665.40,810.42 665.46,810.28 665.60,809.66 665.80,808.59 666.00,807.55"/>
<polyline fill="none" stroke="#333" stroke-width="0.5" stroke-linejoin="round" stroke-linecap="round" points="666.00,807.55 666.14,806.65 666.20,806.27 666.40,804.82 666.48,804.16 666.60,802.92 666.80,800.73 666.82,800.51 667.00,798.48 667.16,796.84 667.20,796.44 667.40,794.84 667.50,794.35 667.60,794.31 667.80,794.98 667.84,795.23 668.00,796.34 668.18,798.02 668.20,798.23 668.40,800.39 668.52,801.70 668.60,802.54 668.80,804.49 668.86,805.02 669.00,806.18 669.20,807.58 669.40,808.77 669.54,809.44"/>
<polyline fill="none" stroke="#333" stroke-width="0.7" stroke-linejoin="round" stroke-linecap="round" points="669.54,809.44 669.60,809.73 669.80,810.56 669.88,810.84 670.00,811.15 670.20,811.56 670.22,811.60 670.40,811.92 670.56,812.17 670.60,812.18 670.80,812.21 670.90,812.21 671.00,812.14 671.20,811.98 671.24,811.94 671.40,812.04 671.58,812.13 671.92,812.22 672.26,812.42 672.60,812.36 672.94,812.16 673.28,812.03 673.62,812.13 673.96,812.25 674.30,812.42 674.64,812.78 674.98,812.58 675.32,812.28 675.66,812.03 676.00,812.14 676.34,812.39 676.68,812.23 677.02,812.45 677.36,812.38 677.70,812.38 678.04,812.20 678.38,811.83 678.72,811.78 679.06,811.42 679.40,810.56 679.74,809.34 680.08,808.20"/>
<polyline fill="none" stroke="#333" stroke-width="0.5" stroke-linejoin="round" stroke-linecap="round" points="680.08,808.20 680.42,806.70 680.76,805.96 681.10,805.94 681.44,807.16 681.78,808.11 682.12,809.41"/>
<polyline fill="none" stroke="#333" stroke-width="0.7" stroke-linejoin="round" stroke-linecap="round" points="682.12,809.41 682.46,810.40 682.80,811.13 683.14,811.76 683.48,812.04 683.82,812.30 684.16,812.24 684.50,812.24 684.84,812.36 685.18,812.57 685.52,812.58 685.86,812.48 686.20,812.29 686.54,812.32 686.88,812.35 687.22,811.93 687.56,811.91 687.90,811.64 688.24,811.09 688.58,810.80 688.92,810.92 689.26,811.37 689.60,812.18 689.94,812.50 690.28,812.33 690.62,812.15 690.96,812.53 691.30,812.46 691.64,812.60 691.98,812.42 692.32,812.90 692.66,813.01 693.00,812.63 693.34,812.73 693.68,812.95 694.02,812.75 694.36,812.84 694.70,813.02 695.04,812.98 695.38,812.93 695.72,813.23 696.06,813.10 696.40,813.02 696.74,812.97 697.08,813.10 697.42,812.99 697.76,813.08 698.10,813.29 698.44,813.35 698.78,813.56 699.12,813.45 699.46,813.44 699.80,813.51 700.14,813.28 700.48,813.25 700.82,812.87 701.16,813.22 701.50,813.23 701.84,813.20 702.18,813.31 702.52,813.19 702.86,813.36 703.20,813.55 703.54,813.74 703.88,813.43 704.22,813.57 704.56,813.46 704.90,813.33 705.24,813.65 705.58,813.20 705.92,813.18 706.26,813.05 706.60,813.32 706.94,813.18 707.28,813.06 707.62,813.06 707.96,813.39 708.30,812.96 708.64,812.90 708.98,812.91 709.32,812.94 709.66,813.07 710.00,812.62 710.34,812.64 710.68,812.52 711.02,812.52 711.36,812.76 711.70,812.81 711.80,812.73 712.00,812.57 712.04,812.53 712.20,812.41 712.38,812.26 712.40,812.26 712.60,812.29 712.72,812.29 712.80,812.11 713.00,811.63 713.06,811.48 713.20,811.32 713.40,811.02 713.60,810.72 713.74,810.44 713.80,810.21 714.00,809.38 714.08,809.01 714.20,808.61"/>
<polyline fill="none" stroke="#333" stroke-width="0.5" stroke-linejoin="round" stroke-linecap="round" points="714.20,808.61 714.40,807.84 714.42,807.76 714.60,806.92 714.76,806.13 714.80,805.90 715.00,804.75 715.10,804.20 715.20,803.83 715.40,803.25 715.44,803.17 715.60,802.47 715.78,801.98 715.80,801.98 716.00,802.13 716.12,802.41 716.20,802.71 716.40,803.62 716.46,803.93 716.60,804.68 716.80,805.79 717.00,806.86 717.14,807.57 717.20,807.88 717.40,808.82 717.48,809.16"/>
<polyline fill="none" stroke="#333" stroke-width="0.7" stroke-linejoin="round" stroke-linecap="round" points="717.48,809.16 717.60,809.62 717.80,810.27 717.82,810.33 718.00,810.64 718.16,810.85 718.20,810.96 718.40,811.47 718.50,811.69 718.60,811.84 718.80,812.09 718.84,812.14 719.00,812.25 719.18,812.35 719.20,812.36 719.40,812.36 719.52,812.36 719.60,812.38 719.86,812.45 720.20,812.31 720.54,812.81 720.88,812.79 721.22,812.83 721.56,812.89 721.90,812.87 722.24,812.62 722.58,812.78 722.92,812.69 723.26,812.43 723.60,812.54 723.94,812.41 724.28,812.40 724.62,812.39 724.96,812.41 725.30,812.61 725.64,812.50 725.98,812.64 726.32,812.89 726.66,812.75 727.00,812.83 727.34,812.65 727.68,811.99 728.02,811.95 728.36,811.73 728.70,811.46 729.04,811.59 729.38,811.81 729.72,812.30 730.06,812.88 730.40,812.70 730.74,812.79 731.08,812.97 731.42,813.11 731.76,812.85 732.10,812.89 732.44,812.83 732.78,812.95 733.12,813.12 733.46,813.42 733.80,813.33 734.14,813.42 734.48,813.49 734.82,813.52 735.16,813.40 735.50,813.18 735.84,813.18 736.18,813.37 736.52,813.34 736.86,813.40 737.20,813.58 737.54,813.49 737.88,813.23 738.22,813.40 738.56,813.28 738.90,813.23 739.24,813.42 739.58,813.38 739.92,813.28 740.26,813.47 740.60,813.59 740.94,813.66 741.28,813.48 741.62,813.31 741.96,813.47 742.30,813.51 742.64,813.65 742.98,813.56 743.32,813.56 743.66,813.23 744.00,813.30 744.34,813.29 744.68,813.84 745.02,813.53 745.36,813.37 745.70,813.60 746.04,813.69 746.38,813.63 746.72,813.77 747.06,813.57 747.40,813.42 747.74,813.29 748.08,813.27 748.42,813.41 748.76,813.44 749.10,813.48 749.44,813.38 749.78,813.35 750.12,813.04 750.46,813.30 750.80,813.66 751.14,813.43 751.48,813.08 751.82,813.19 752.16,813.33 752.50,813.39 752.84,813.38 753.18,813.36 753.52,813.43 753.86,813.59 754.20,813.52 754.54,813.24 754.88,813.36 755.22,813.09 755.56,813.09 755.90,813.15 756.24,813.24 756.58,813.34 756.92,813.08 757.26,812.86"/>
<rect x="77.5" y="448.2" width="680.3" height="369.40000000000003" fill="none" stroke="#484848" stroke-width="1.3"/>
<line x1="64" y1="816.60" x2="77.5" y2="816.60" stroke="#444" stroke-width="1.3"/>
<text class="tk" x="62" y="821.90" text-anchor="end">0</text>
<line x1="64" y1="779.89" x2="77.5" y2="779.89" stroke="#444" stroke-width="1.3"/>
<text class="tk" x="62" y="785.19" text-anchor="end">60</text>
<line x1="64" y1="743.18" x2="77.5" y2="743.18" stroke="#444" stroke-width="1.3"/>
<text class="tk" x="62" y="748.48" text-anchor="end">120</text>
<line x1="64" y1="706.48" x2="77.5" y2="706.48" stroke="#444" stroke-width="1.3"/>
<text class="tk" x="62" y="711.78" text-anchor="end">180</text>
<line x1="64" y1="669.77" x2="77.5" y2="669.77" stroke="#444" stroke-width="1.3"/>
<text class="tk" x="62" y="675.07" text-anchor="end">240</text>
<line x1="64" y1="633.06" x2="77.5" y2="633.06" stroke="#444" stroke-width="1.3"/>
<text class="tk" x="62" y="638.36" text-anchor="end">300</text>
<line x1="64" y1="596.35" x2="77.5" y2="596.35" stroke="#444" stroke-width="1.3"/>
<text class="tk" x="62" y="601.65" text-anchor="end">360</text>
<line x1="64" y1="559.64" x2="77.5" y2="559.64" stroke="#444" stroke-width="1.3"/>
<text class="tk" x="62" y="564.94" text-anchor="end">420</text>
<line x1="64" y1="522.94" x2="77.5" y2="522.94" stroke="#444" stroke-width="1.3"/>
<text class="tk" x="62" y="528.24" text-anchor="end">480</text>
<line x1="64" y1="486.23" x2="77.5" y2="486.23" stroke="#444" stroke-width="1.3"/>
<text class="tk" x="62" y="491.53" text-anchor="end">540</text>
<line x1="64" y1="449.52" x2="77.5" y2="449.52" stroke="#444" stroke-width="1.3"/>
<text class="tk" x="62" y="454.82" text-anchor="end">600</text>
<line x1="109.80" y1="817.6" x2="109.80" y2="831.10" stroke="#444" stroke-width="1.3"/>
<text class="tk" x="110.30" y="843.10" text-anchor="middle">5</text>
<line x1="190.80" y1="817.6" x2="190.80" y2="831.10" stroke="#444" stroke-width="1.3"/>
<text class="tk" x="191.30" y="843.10" text-anchor="middle">10</text>
<line x1="271.80" y1="817.6" x2="271.80" y2="831.10" stroke="#444" stroke-width="1.3"/>
<text class="tk" x="272.30" y="843.10" text-anchor="middle">15</text>
<line x1="352.80" y1="817.6" x2="352.80" y2="831.10" stroke="#444" stroke-width="1.3"/>
<text class="tk" x="353.30" y="843.10" text-anchor="middle">20</text>
<line x1="433.80" y1="817.6" x2="433.80" y2="831.10" stroke="#444" stroke-width="1.3"/>
<text class="tk" x="434.30" y="843.10" text-anchor="middle">25</text>
<line x1="514.80" y1="817.6" x2="514.80" y2="831.10" stroke="#444" stroke-width="1.3"/>
<text class="tk" x="515.30" y="843.10" text-anchor="middle">30</text>
<line x1="595.80" y1="817.6" x2="595.80" y2="831.10" stroke="#444" stroke-width="1.3"/>
<text class="tk" x="596.30" y="843.10" text-anchor="middle">35</text>
<line x1="676.80" y1="817.6" x2="676.80" y2="831.10" stroke="#444" stroke-width="1.3"/>
<text class="tk" x="677.30" y="843.10" text-anchor="middle">40</text>
<line x1="757.80" y1="817.6" x2="757.80" y2="831.10" stroke="#444" stroke-width="1.3"/>
<text class="tk" x="758.30" y="843.10" text-anchor="middle">45</text>
<text class="ax" x="375.6" y="868.6">2-Theta</text>
<text class="ay" transform="translate(13.9,691.9) rotate(-90)">Intensity(CPS)</text>
<text class="ttl" x="92.0" y="477.2">XD2P-B35</text>
<text class="av" transform="translate(174.90,766.90) rotate(-90)">d=9.952</text>
<text class="an" x="141.5" y="776.3">clay-minerals</text>
<text class="av" transform="translate(233.20,765.00) rotate(-90)">d=7.08</text>
<text class="an" x="202.8" y="774.7">clay-minerals</text>
<text class="av" transform="translate(352.70,788.90) rotate(-90)">d=4.485</text>
<text class="an" x="303.9" y="796">clay-minerals</text>
<text class="av" transform="translate(368.70,729.20) rotate(-90)">d=4.257</text>
<text class="an" x="351.3" y="738">quartz</text>
<text class="av" transform="translate(463.40,507.30) rotate(-90)">d=3.343</text>
<text class="an" x="464.6" y="513">quartz</text>
<text class="av" transform="translate(484.30,781.20) rotate(-90)">d=3.188</text>
<text class="an" x="468.7" y="791.1">plagio</text>
<text class="an" x="468.7" y="800.5">-clase</text>
<text class="av" transform="translate(508.20,785.80) rotate(-90)">d=3.032</text>
<text class="an" x="495" y="794.1">calcite</text>
<text class="av" transform="translate(532.70,779.00) rotate(-90)">d=2.89</text>
<text class="an" x="514.9" y="786.5">dolomite</text>
<text class="av" transform="translate(566.80,795.60) rotate(-90)">d=3.032</text>
<text class="an" x="549.8" y="804.7">calcite</text>
<text class="av" transform="translate(623.40,786.50) rotate(-90)">d=2.455</text>
<text class="an" x="606.9" y="792.4">quartz</text>
<text class="av" transform="translate(669.00,782.30) rotate(-90)">d=2.28</text>
<text class="an" x="646.1" y="790.4">quartz</text>
<text class="av" transform="translate(685.10,794.10) rotate(-90)">d=2.235</text>
<text class="an" x="671.8" y="803.4">dolomite</text>
<text class="av" transform="translate(719.20,789.10) rotate(-90)">d=2.127</text>
<text class="an" x="711.7" y="798.9">calcite</text>
</svg></body></html>
